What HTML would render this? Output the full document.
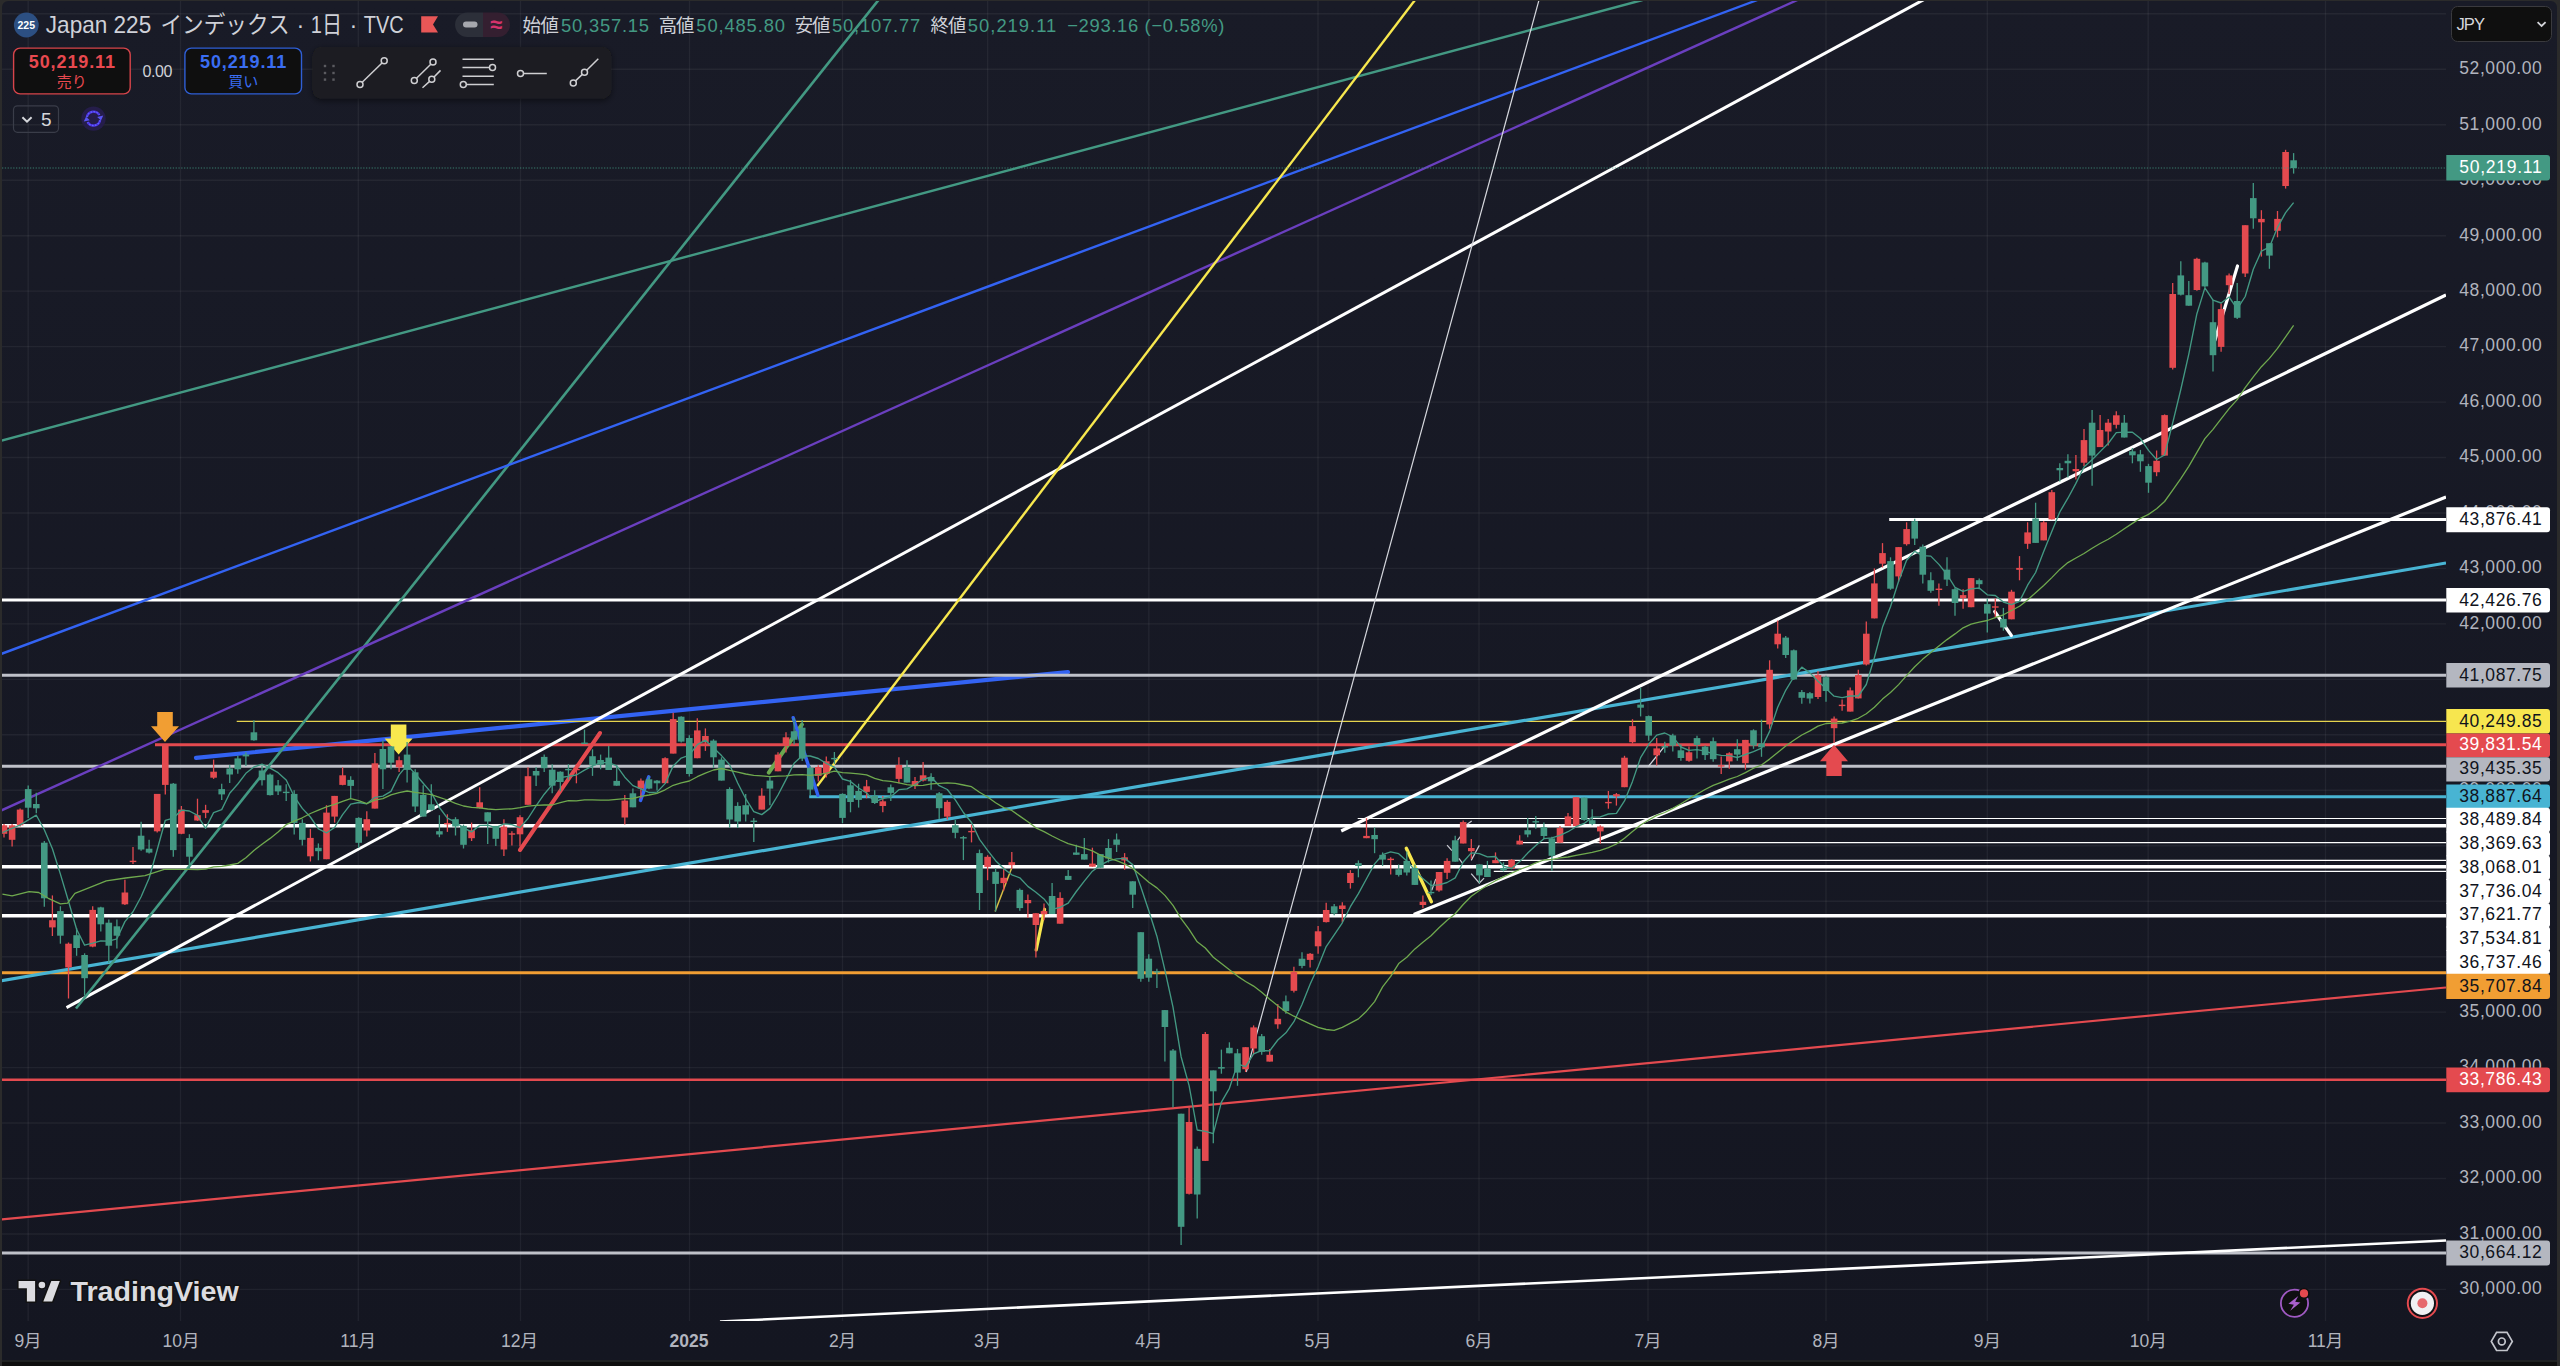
<!DOCTYPE html><html><head><meta charset="utf-8"><title>Japan 225</title><style>
html,body{margin:0;padding:0;background:#0f0f0f;width:2560px;height:1366px;overflow:hidden}
svg{display:block;position:absolute;left:0;top:0}
text{font-family:"Liberation Sans","Noto Sans CJK JP",sans-serif}
.ax{font-size:17.5px;fill:#b1b4be}
.lb{font-size:17.5px}
</style></head><body>
<svg width="2560" height="1366" viewBox="0 0 2560 1366">
<defs><linearGradient id="bg" x1="0" y1="0" x2="0" y2="1"><stop offset="0" stop-color="#191b27"/><stop offset="1" stop-color="#141621"/></linearGradient>
<clipPath id="cc"><rect x="2" y="1" width="2444" height="1320"/></clipPath>
<filter id="sh" x="-10%" y="-20%" width="120%" height="150%"><feDropShadow dx="0" dy="2" stdDeviation="3" flood-color="#000" flood-opacity="0.5"/></filter>
</defs>
<rect x="0" y="0" width="2560" height="1366" fill="#2b2b2b"/>
<rect x="2" y="1361" width="2555" height="5" fill="#0e0e0e"/>
<path d="M2 1361V7a6 6 0 0 1 6-6H2551a6 6 0 0 1 6 6V1361z" fill="url(#bg)"/>
<rect x="2" y="1360.3" width="2555" height="1.5" fill="#242726"/>
<g stroke="#ffffff" stroke-opacity="0.055" stroke-width="1.4">
<line x1="28.2" y1="1" x2="28.2" y2="1321"/>
<line x1="180.5" y1="1" x2="180.5" y2="1321"/>
<line x1="358.3" y1="1" x2="358.3" y2="1321"/>
<line x1="520.5" y1="1" x2="520.5" y2="1321"/>
<line x1="689.5" y1="1" x2="689.5" y2="1321"/>
<line x1="842.5" y1="1" x2="842.5" y2="1321"/>
<line x1="987.6" y1="1" x2="987.6" y2="1321"/>
<line x1="1148.8" y1="1" x2="1148.8" y2="1321"/>
<line x1="1318.0" y1="1" x2="1318.0" y2="1321"/>
<line x1="1479.0" y1="1" x2="1479.0" y2="1321"/>
<line x1="1648.0" y1="1" x2="1648.0" y2="1321"/>
<line x1="1826.0" y1="1" x2="1826.0" y2="1321"/>
<line x1="1987.3" y1="1" x2="1987.3" y2="1321"/>
<line x1="2148.2" y1="1" x2="2148.2" y2="1321"/>
<line x1="2325.5" y1="1" x2="2325.5" y2="1321"/>
<line x1="2" y1="1289.4" x2="2446" y2="1289.4"/>
<line x1="2" y1="1234.0" x2="2446" y2="1234.0"/>
<line x1="2" y1="1178.5" x2="2446" y2="1178.5"/>
<line x1="2" y1="1123.0" x2="2446" y2="1123.0"/>
<line x1="2" y1="1067.6" x2="2446" y2="1067.6"/>
<line x1="2" y1="1012.1" x2="2446" y2="1012.1"/>
<line x1="2" y1="956.7" x2="2446" y2="956.7"/>
<line x1="2" y1="901.2" x2="2446" y2="901.2"/>
<line x1="2" y1="845.7" x2="2446" y2="845.7"/>
<line x1="2" y1="790.3" x2="2446" y2="790.3"/>
<line x1="2" y1="734.8" x2="2446" y2="734.8"/>
<line x1="2" y1="679.4" x2="2446" y2="679.4"/>
<line x1="2" y1="623.9" x2="2446" y2="623.9"/>
<line x1="2" y1="568.4" x2="2446" y2="568.4"/>
<line x1="2" y1="513.0" x2="2446" y2="513.0"/>
<line x1="2" y1="457.5" x2="2446" y2="457.5"/>
<line x1="2" y1="402.1" x2="2446" y2="402.1"/>
<line x1="2" y1="346.6" x2="2446" y2="346.6"/>
<line x1="2" y1="291.1" x2="2446" y2="291.1"/>
<line x1="2" y1="235.7" x2="2446" y2="235.7"/>
<line x1="2" y1="180.2" x2="2446" y2="180.2"/>
<line x1="2" y1="124.8" x2="2446" y2="124.8"/>
<line x1="2" y1="69.3" x2="2446" y2="69.3"/>
<line x1="2" y1="13.8" x2="2446" y2="13.8"/>
</g>
<g clip-path="url(#cc)">
<line x1="196.0" y1="757.9" x2="1068.0" y2="672.0" stroke="#3363f3" stroke-width="4.2" stroke-linecap="round"/>
<line x1="0.0" y1="1253.0" x2="2446.0" y2="1253.0" stroke="#bfc1c9" stroke-width="3.0" stroke-linecap="butt"/>
<line x1="0.0" y1="1079.8" x2="2446.0" y2="1079.8" stroke="#e44a4f" stroke-width="2.4" stroke-linecap="butt"/>
<line x1="0.0" y1="972.7" x2="2446.0" y2="972.7" stroke="#f19e33" stroke-width="3.0" stroke-linecap="butt"/>
<line x1="0.0" y1="915.8" x2="2446.0" y2="915.8" stroke="#ffffff" stroke-width="3.4" stroke-linecap="butt"/>
<line x1="0.0" y1="866.7" x2="2446.0" y2="866.7" stroke="#ffffff" stroke-width="3.4" stroke-linecap="butt"/>
<line x1="0.0" y1="825.7" x2="2446.0" y2="825.7" stroke="#ffffff" stroke-width="3.4" stroke-linecap="butt"/>
<line x1="1357.7" y1="818.5" x2="2446.0" y2="818.5" stroke="#ffffff" stroke-width="1.2" stroke-linecap="butt"/>
<line x1="1522.0" y1="842.6" x2="2446.0" y2="842.6" stroke="#ffffff" stroke-width="1.2" stroke-linecap="butt"/>
<line x1="1497.8" y1="860.4" x2="2446.0" y2="860.4" stroke="#ffffff" stroke-width="1.2" stroke-linecap="butt"/>
<line x1="1493.8" y1="871.3" x2="2446.0" y2="871.3" stroke="#ffffff" stroke-width="1.2" stroke-linecap="butt"/>
<line x1="809.2" y1="796.8" x2="2446.0" y2="796.8" stroke="#48b4d3" stroke-width="3.0" stroke-linecap="butt"/>
<line x1="0.0" y1="766.3" x2="2446.0" y2="766.3" stroke="#bfc1c9" stroke-width="3.0" stroke-linecap="butt"/>
<line x1="155.0" y1="744.7" x2="2446.0" y2="744.7" stroke="#e44a4f" stroke-width="3.0" stroke-linecap="butt"/>
<line x1="236.7" y1="721.4" x2="2446.0" y2="721.4" stroke="#e6d44e" stroke-width="1.2" stroke-linecap="butt"/>
<line x1="0.0" y1="675.3" x2="2446.0" y2="675.3" stroke="#bfc1c9" stroke-width="3.0" stroke-linecap="butt"/>
<line x1="0.0" y1="600.1" x2="2446.0" y2="600.1" stroke="#ffffff" stroke-width="3.0" stroke-linecap="butt"/>
<line x1="1889.2" y1="519.6" x2="2446.0" y2="519.6" stroke="#ffffff" stroke-width="3.0" stroke-linecap="butt"/>
<line x1="0.0" y1="1219.5" x2="2446.0" y2="987.5" stroke="#e44a4f" stroke-width="2.2" stroke-linecap="butt"/>
<line x1="720.0" y1="1321.5" x2="2446.0" y2="1240.5" stroke="#ffffff" stroke-width="2.6" stroke-linecap="butt"/>
<line x1="0.0" y1="981.0" x2="2446.0" y2="563.0" stroke="#48b4d3" stroke-width="3.2" stroke-linecap="butt"/>
<line x1="1341.2" y1="831.0" x2="2446.0" y2="295.0" stroke="#ffffff" stroke-width="3.2" stroke-linecap="butt"/>
<line x1="1413.7" y1="914.4" x2="2446.0" y2="497.0" stroke="#ffffff" stroke-width="3.2" stroke-linecap="butt"/>
<line x1="66.5" y1="1007.6" x2="1925.0" y2="-1.0" stroke="#ffffff" stroke-width="3.0" stroke-linecap="butt"/>
<line x1="76.0" y1="1008.5" x2="878.5" y2="0.0" stroke="#439983" stroke-width="2.6" stroke-linecap="butt"/>
<line x1="0.0" y1="441.0" x2="1642.5" y2="0.0" stroke="#439983" stroke-width="2.4" stroke-linecap="butt"/>
<line x1="0.0" y1="654.4" x2="1757.5" y2="0.0" stroke="#3363f3" stroke-width="2.4" stroke-linecap="butt"/>
<line x1="0.0" y1="811.0" x2="1797.5" y2="0.0" stroke="#6a3fbf" stroke-width="2.4" stroke-linecap="butt"/>
<line x1="817.2" y1="785.9" x2="1415.0" y2="0.0" stroke="#f8e84e" stroke-width="2.4" stroke-linecap="butt"/>
<line x1="1246.3" y1="1072.0" x2="1539.0" y2="0.0" stroke="#d6d8de" stroke-width="1.2" stroke-linecap="butt"/>
<line x1="520.0" y1="850.0" x2="600.0" y2="733.0" stroke="#e44a4f" stroke-width="4.0" stroke-linecap="round"/>
<line x1="768.8" y1="772.6" x2="801.9" y2="724.6" stroke="#6aa84f" stroke-width="4.0" stroke-linecap="round"/>
<line x1="793.2" y1="717.7" x2="817.9" y2="795.3" stroke="#3363f3" stroke-width="3.4" stroke-linecap="round"/>
<line x1="640.5" y1="800.3" x2="648.8" y2="776.9" stroke="#3363f3" stroke-width="3.6" stroke-linecap="round"/>
<line x1="995.1" y1="911.6" x2="1011.5" y2="868.4" stroke="#d8bf45" stroke-width="1.5" stroke-linecap="butt"/>
<line x1="1036.2" y1="950.0" x2="1044.6" y2="909.2" stroke="#f8e84e" stroke-width="3.2" stroke-linecap="round"/>
<line x1="1406.3" y1="848.3" x2="1431.4" y2="901.8" stroke="#f8e84e" stroke-width="3.4" stroke-linecap="round"/>
<line x1="1994.7" y1="611.5" x2="2011.4" y2="635.5" stroke="#ffffff" stroke-width="3.2" stroke-linecap="round"/>
<line x1="2237.5" y1="266.0" x2="2215.0" y2="340.0" stroke="#ffffff" stroke-width="3.2" stroke-linecap="round"/>
<line x1="1648.4" y1="766.4" x2="1665.3" y2="745.4" stroke="#d6d8de" stroke-width="1.3" stroke-linecap="butt"/>
<polyline fill="none" stroke="#c9cbd2" stroke-width="1.2" points="1447.1,845.1 1451.9,850.7"/>
<polyline fill="none" stroke="#c9cbd2" stroke-width="1.2" points="1457.5,840.3 1460.7,836.2"/>
<polyline fill="none" stroke="#c9cbd2" stroke-width="1.2" points="1458.8,858.3 1462.4,863.1"/>
<polyline fill="none" stroke="#c9cbd2" stroke-width="1.2" points="1467.2,824.2 1471.7,820.9"/>
<polyline fill="none" stroke="#c9cbd2" stroke-width="1.2" points="1471.2,860.4 1479.3,845.4"/>
<polyline fill="none" stroke="#c9cbd2" stroke-width="1.2" points="1471.2,873.6 1479.3,883.0 1484.1,878.1"/>
<polyline fill="none" stroke="#c9cbd2" stroke-width="1.2" points="1431.8,890.2 1435.8,878.9"/>
<path d="M165.0 742.0l-14 -15.8h6.2v-14.2h15.6v14.2h6.2z" fill="#f19e33"/>
<path d="M398.6 754.4l-14 -15.8h6.2v-14.2h15.6v14.2h6.2z" fill="#f8e84e"/>
<path d="M1834.0 744.7l-14 16.6h6.3v14.6h15.4v-14.6h6.3z" fill="#e44a4f"/>
<g>
<path d="M4.0 824.1V837.4" stroke="#e44a4f" stroke-width="1.3"/><rect x="0.7" y="825.3" width="6.6" height="8.5" fill="#e44a4f"/>
<path d="M12.1 824.1V846.6" stroke="#e44a4f" stroke-width="1.3"/><rect x="8.8" y="825.3" width="6.6" height="14.5" fill="#e44a4f"/>
<path d="M20.1 808.4V826.5" stroke="#e44a4f" stroke-width="1.3"/><rect x="16.8" y="809.6" width="6.6" height="15.7" fill="#e44a4f"/>
<path d="M28.2 785.4V818.1" stroke="#439983" stroke-width="1.3"/><rect x="24.9" y="789.1" width="6.6" height="18.6" fill="#439983"/>
<path d="M36.3 792.7V813.2" stroke="#439983" stroke-width="1.3"/><rect x="33.0" y="804.0" width="6.6" height="4.3" fill="#439983"/>
<path d="M44.3 841.0V906.7" stroke="#439983" stroke-width="1.3"/><rect x="41.0" y="842.7" width="6.6" height="55.6" fill="#439983"/>
<path d="M52.4 895.4V936.0" stroke="#e44a4f" stroke-width="1.3"/><rect x="49.1" y="920.2" width="6.6" height="7.2" fill="#e44a4f"/>
<path d="M60.4 906.2V943.7" stroke="#439983" stroke-width="1.3"/><rect x="57.1" y="911.1" width="6.6" height="24.6" fill="#439983"/>
<path d="M68.5 942.5V998.5" stroke="#e44a4f" stroke-width="1.3"/><rect x="65.2" y="943.7" width="6.6" height="23.7" fill="#e44a4f"/>
<path d="M76.6 928.0V955.8" stroke="#439983" stroke-width="1.3"/><rect x="73.3" y="935.2" width="6.6" height="12.8" fill="#439983"/>
<path d="M84.6 953.3V995.6" stroke="#439983" stroke-width="1.3"/><rect x="81.3" y="955.0" width="6.6" height="23.2" fill="#439983"/>
<path d="M92.7 906.2V947.3" stroke="#e44a4f" stroke-width="1.3"/><rect x="89.4" y="909.9" width="6.6" height="36.7" fill="#e44a4f"/>
<path d="M100.8 906.7V931.6" stroke="#439983" stroke-width="1.3"/><rect x="97.5" y="907.4" width="6.6" height="16.9" fill="#439983"/>
<path d="M108.8 919.5V963.0" stroke="#439983" stroke-width="1.3"/><rect x="105.5" y="922.7" width="6.6" height="23.0" fill="#439983"/>
<path d="M116.9 919.5V948.5" stroke="#439983" stroke-width="1.3"/><rect x="113.6" y="926.3" width="6.6" height="9.4" fill="#439983"/>
<path d="M124.9 879.7V905.0" stroke="#e44a4f" stroke-width="1.3"/><rect x="121.6" y="892.5" width="6.6" height="11.8" fill="#e44a4f"/>
<path d="M133.0 847.0V864.0" stroke="#e44a4f" stroke-width="1.3"/><rect x="129.7" y="860.7" width="6.6" height="1.4" fill="#e44a4f"/>
<path d="M141.1 821.7V850.7" stroke="#439983" stroke-width="1.3"/><rect x="137.8" y="835.7" width="6.6" height="13.8" fill="#439983"/>
<path d="M149.1 839.8V853.6" stroke="#439983" stroke-width="1.3"/><rect x="145.8" y="848.7" width="6.6" height="3.9" fill="#439983"/>
<path d="M157.2 793.9V832.5" stroke="#e44a4f" stroke-width="1.3"/><rect x="153.9" y="793.9" width="6.6" height="37.4" fill="#e44a4f"/>
<path d="M165.3 744.8V794.4" stroke="#e44a4f" stroke-width="1.3"/><rect x="162.0" y="744.8" width="6.6" height="40.1" fill="#e44a4f"/>
<path d="M173.3 783.0V856.7" stroke="#439983" stroke-width="1.3"/><rect x="170.0" y="783.7" width="6.6" height="66.4" fill="#439983"/>
<path d="M181.4 806.0V834.2" stroke="#e44a4f" stroke-width="1.3"/><rect x="178.1" y="809.6" width="6.6" height="24.2" fill="#e44a4f"/>
<path d="M189.4 834.2V868.8" stroke="#439983" stroke-width="1.3"/><rect x="186.1" y="838.1" width="6.6" height="18.6" fill="#439983"/>
<path d="M197.5 798.7V820.9" stroke="#e44a4f" stroke-width="1.3"/><rect x="194.2" y="815.2" width="6.6" height="5.3" fill="#e44a4f"/>
<path d="M205.6 804.8V818.1" stroke="#e44a4f" stroke-width="1.3"/><rect x="202.3" y="810.1" width="6.6" height="2.7" fill="#e44a4f"/>
<path d="M213.6 759.6V778.9" stroke="#e44a4f" stroke-width="1.3"/><rect x="210.3" y="771.7" width="6.6" height="6.0" fill="#e44a4f"/>
<path d="M221.7 783.7V799.9" stroke="#439983" stroke-width="1.3"/><rect x="218.4" y="789.1" width="6.6" height="5.3" fill="#439983"/>
<path d="M229.7 764.9V783.0" stroke="#439983" stroke-width="1.3"/><rect x="226.4" y="768.5" width="6.6" height="6.0" fill="#439983"/>
<path d="M237.8 755.7V773.8" stroke="#439983" stroke-width="1.3"/><rect x="234.5" y="758.4" width="6.6" height="10.9" fill="#439983"/>
<path d="M245.9 752.3V766.1" stroke="#439983" stroke-width="1.3"/><rect x="242.6" y="754.5" width="6.6" height="1.9" fill="#439983"/>
<path d="M253.9 720.2V740.7" stroke="#439983" stroke-width="1.3"/><rect x="250.6" y="732.3" width="6.6" height="8.0" fill="#439983"/>
<path d="M262.0 765.6V785.4" stroke="#439983" stroke-width="1.3"/><rect x="258.7" y="770.5" width="6.6" height="9.7" fill="#439983"/>
<path d="M270.1 773.4V795.6" stroke="#439983" stroke-width="1.3"/><rect x="266.8" y="774.6" width="6.6" height="20.5" fill="#439983"/>
<path d="M278.1 779.9V795.1" stroke="#439983" stroke-width="1.3"/><rect x="274.8" y="785.4" width="6.6" height="6.0" fill="#439983"/>
<path d="M286.2 784.2V801.1" stroke="#439983" stroke-width="1.3"/><rect x="282.9" y="791.7" width="6.6" height="1.4" fill="#439983"/>
<path d="M294.2 790.3V834.5" stroke="#439983" stroke-width="1.3"/><rect x="290.9" y="793.9" width="6.6" height="29.0" fill="#439983"/>
<path d="M302.3 819.3V845.4" stroke="#439983" stroke-width="1.3"/><rect x="299.0" y="822.9" width="6.6" height="16.9" fill="#439983"/>
<path d="M310.4 828.9V861.5" stroke="#e44a4f" stroke-width="1.3"/><rect x="307.1" y="837.9" width="6.6" height="18.4" fill="#e44a4f"/>
<path d="M318.4 843.4V860.3" stroke="#439983" stroke-width="1.3"/><rect x="315.1" y="847.8" width="6.6" height="3.4" fill="#439983"/>
<path d="M326.5 805.2V859.2" stroke="#e44a4f" stroke-width="1.3"/><rect x="323.2" y="812.6" width="6.6" height="46.6" fill="#e44a4f"/>
<path d="M334.6 795.9V822.6" stroke="#e44a4f" stroke-width="1.3"/><rect x="331.3" y="795.9" width="6.6" height="20.7" fill="#e44a4f"/>
<path d="M342.6 767.3V785.3" stroke="#e44a4f" stroke-width="1.3"/><rect x="339.3" y="775.3" width="6.6" height="9.6" fill="#e44a4f"/>
<path d="M350.7 776.2V797.9" stroke="#439983" stroke-width="1.3"/><rect x="347.4" y="779.9" width="6.6" height="6.0" fill="#439983"/>
<path d="M358.7 817.2V847.9" stroke="#439983" stroke-width="1.3"/><rect x="355.4" y="817.9" width="6.6" height="24.9" fill="#439983"/>
<path d="M366.8 811.2V836.6" stroke="#e44a4f" stroke-width="1.3"/><rect x="363.5" y="819.2" width="6.6" height="11.3" fill="#e44a4f"/>
<path d="M374.9 753.0V808.6" stroke="#e44a4f" stroke-width="1.3"/><rect x="371.6" y="763.3" width="6.6" height="45.3" fill="#e44a4f"/>
<path d="M382.9 740.6V789.0" stroke="#439983" stroke-width="1.3"/><rect x="379.6" y="749.0" width="6.6" height="20.3" fill="#439983"/>
<path d="M391.0 746.0V769.3" stroke="#439983" stroke-width="1.3"/><rect x="387.7" y="746.4" width="6.6" height="16.3" fill="#439983"/>
<path d="M399.1 756.6V771.9" stroke="#e44a4f" stroke-width="1.3"/><rect x="395.8" y="760.2" width="6.6" height="7.1" fill="#e44a4f"/>
<path d="M407.1 742.0V782.6" stroke="#439983" stroke-width="1.3"/><rect x="403.8" y="754.6" width="6.6" height="15.3" fill="#439983"/>
<path d="M415.2 769.3V811.9" stroke="#439983" stroke-width="1.3"/><rect x="411.9" y="772.3" width="6.6" height="34.2" fill="#439983"/>
<path d="M423.2 785.3V816.6" stroke="#439983" stroke-width="1.3"/><rect x="419.9" y="794.9" width="6.6" height="21.7" fill="#439983"/>
<path d="M431.3 784.2V810.6" stroke="#439983" stroke-width="1.3"/><rect x="428.0" y="804.3" width="6.6" height="5.6" fill="#439983"/>
<path d="M439.4 815.2V837.2" stroke="#439983" stroke-width="1.3"/><rect x="436.1" y="831.2" width="6.6" height="3.3" fill="#439983"/>
<path d="M447.4 814.3V831.9" stroke="#e44a4f" stroke-width="1.3"/><rect x="444.1" y="823.0" width="6.6" height="1.4" fill="#e44a4f"/>
<path d="M455.5 817.2V835.5" stroke="#439983" stroke-width="1.3"/><rect x="452.2" y="819.2" width="6.6" height="7.3" fill="#439983"/>
<path d="M463.5 824.6V848.5" stroke="#439983" stroke-width="1.3"/><rect x="460.2" y="825.9" width="6.6" height="18.9" fill="#439983"/>
<path d="M471.6 822.6V841.0" stroke="#e44a4f" stroke-width="1.3"/><rect x="468.3" y="830.3" width="6.6" height="7.9" fill="#e44a4f"/>
<path d="M479.7 787.3V808.6" stroke="#e44a4f" stroke-width="1.3"/><rect x="476.4" y="802.3" width="6.6" height="5.9" fill="#e44a4f"/>
<path d="M487.7 812.3V843.9" stroke="#439983" stroke-width="1.3"/><rect x="484.4" y="812.3" width="6.6" height="9.2" fill="#439983"/>
<path d="M495.8 825.9V845.9" stroke="#439983" stroke-width="1.3"/><rect x="492.5" y="825.9" width="6.6" height="12.9" fill="#439983"/>
<path d="M503.9 819.2V855.9" stroke="#e44a4f" stroke-width="1.3"/><rect x="500.6" y="826.6" width="6.6" height="22.9" fill="#e44a4f"/>
<path d="M511.9 831.2V845.6" stroke="#e44a4f" stroke-width="1.3"/><rect x="508.6" y="833.3" width="6.6" height="1.4" fill="#e44a4f"/>
<path d="M520.0 815.2V846.5" stroke="#e44a4f" stroke-width="1.3"/><rect x="516.7" y="817.2" width="6.6" height="17.1" fill="#e44a4f"/>
<path d="M528.0 767.3V804.8" stroke="#e44a4f" stroke-width="1.3"/><rect x="524.7" y="776.2" width="6.6" height="28.6" fill="#e44a4f"/>
<path d="M536.1 767.0V785.9" stroke="#439983" stroke-width="1.3"/><rect x="532.8" y="771.0" width="6.6" height="4.5" fill="#439983"/>
<path d="M544.2 754.6V771.9" stroke="#439983" stroke-width="1.3"/><rect x="540.9" y="756.9" width="6.6" height="11.3" fill="#439983"/>
<path d="M552.2 764.2V793.3" stroke="#439983" stroke-width="1.3"/><rect x="548.9" y="769.7" width="6.6" height="16.0" fill="#439983"/>
<path d="M560.3 771.3V791.3" stroke="#439983" stroke-width="1.3"/><rect x="557.0" y="771.7" width="6.6" height="10.3" fill="#439983"/>
<path d="M568.4 764.2V779.7" stroke="#439983" stroke-width="1.3"/><rect x="565.1" y="768.9" width="6.6" height="1.4" fill="#439983"/>
<path d="M576.4 763.9V783.3" stroke="#e44a4f" stroke-width="1.3"/><rect x="573.1" y="768.9" width="6.6" height="1.4" fill="#e44a4f"/>
<path d="M584.5 729.6V744.0" stroke="#439983" stroke-width="1.3"/><rect x="581.2" y="742.6" width="6.6" height="1.4" fill="#439983"/>
<path d="M592.5 749.3V775.9" stroke="#439983" stroke-width="1.3"/><rect x="589.2" y="756.2" width="6.6" height="9.1" fill="#439983"/>
<path d="M600.6 754.6V769.3" stroke="#439983" stroke-width="1.3"/><rect x="597.3" y="760.0" width="6.6" height="4.7" fill="#439983"/>
<path d="M608.7 746.0V769.9" stroke="#439983" stroke-width="1.3"/><rect x="605.4" y="757.6" width="6.6" height="12.4" fill="#439983"/>
<path d="M616.7 765.3V785.7" stroke="#439983" stroke-width="1.3"/><rect x="613.4" y="780.9" width="6.6" height="4.8" fill="#439983"/>
<path d="M624.8 794.9V824.6" stroke="#e44a4f" stroke-width="1.3"/><rect x="621.5" y="800.6" width="6.6" height="16.9" fill="#e44a4f"/>
<path d="M632.9 788.6V807.2" stroke="#439983" stroke-width="1.3"/><rect x="629.6" y="793.3" width="6.6" height="14.0" fill="#439983"/>
<path d="M640.9 778.6V798.6" stroke="#e44a4f" stroke-width="1.3"/><rect x="637.6" y="780.6" width="6.6" height="8.0" fill="#e44a4f"/>
<path d="M649.0 776.6V789.3" stroke="#439983" stroke-width="1.3"/><rect x="645.7" y="779.3" width="6.6" height="9.3" fill="#439983"/>
<path d="M657.0 779.9V790.6" stroke="#439983" stroke-width="1.3"/><rect x="653.7" y="780.6" width="6.6" height="2.7" fill="#439983"/>
<path d="M665.1 757.3V783.3" stroke="#e44a4f" stroke-width="1.3"/><rect x="661.8" y="758.2" width="6.6" height="25.0" fill="#e44a4f"/>
<path d="M673.2 712.7V753.6" stroke="#e44a4f" stroke-width="1.3"/><rect x="669.9" y="719.1" width="6.6" height="34.5" fill="#e44a4f"/>
<path d="M681.2 716.3V742.6" stroke="#439983" stroke-width="1.3"/><rect x="677.9" y="716.7" width="6.6" height="24.9" fill="#439983"/>
<path d="M689.3 735.3V776.6" stroke="#439983" stroke-width="1.3"/><rect x="686.0" y="738.0" width="6.6" height="36.0" fill="#439983"/>
<path d="M697.3 718.3V758.2" stroke="#e44a4f" stroke-width="1.3"/><rect x="694.0" y="730.4" width="6.6" height="27.8" fill="#e44a4f"/>
<path d="M705.4 728.4V750.9" stroke="#e44a4f" stroke-width="1.3"/><rect x="702.1" y="736.0" width="6.6" height="6.4" fill="#e44a4f"/>
<path d="M713.5 739.3V767.9" stroke="#439983" stroke-width="1.3"/><rect x="710.2" y="740.6" width="6.6" height="16.7" fill="#439983"/>
<path d="M721.5 757.3V780.6" stroke="#439983" stroke-width="1.3"/><rect x="718.2" y="759.6" width="6.6" height="21.0" fill="#439983"/>
<path d="M729.6 787.3V827.9" stroke="#439983" stroke-width="1.3"/><rect x="726.3" y="789.0" width="6.6" height="30.5" fill="#439983"/>
<path d="M737.7 802.3V827.9" stroke="#439983" stroke-width="1.3"/><rect x="734.4" y="805.9" width="6.6" height="15.6" fill="#439983"/>
<path d="M745.7 793.9V821.5" stroke="#439983" stroke-width="1.3"/><rect x="742.4" y="805.2" width="6.6" height="9.3" fill="#439983"/>
<path d="M753.8 817.9V841.9" stroke="#439983" stroke-width="1.3"/><rect x="750.5" y="820.6" width="6.6" height="1.4" fill="#439983"/>
<path d="M761.8 788.2V809.5" stroke="#e44a4f" stroke-width="1.3"/><rect x="758.5" y="795.7" width="6.6" height="13.9" fill="#e44a4f"/>
<path d="M769.9 776.6V805.2" stroke="#439983" stroke-width="1.3"/><rect x="766.6" y="780.6" width="6.6" height="8.0" fill="#439983"/>
<path d="M778.0 752.2V771.3" stroke="#e44a4f" stroke-width="1.3"/><rect x="774.7" y="754.6" width="6.6" height="16.7" fill="#e44a4f"/>
<path d="M786.0 732.2V752.6" stroke="#e44a4f" stroke-width="1.3"/><rect x="782.7" y="737.3" width="6.6" height="8.7" fill="#e44a4f"/>
<path d="M794.1 718.0V744.6" stroke="#439983" stroke-width="1.3"/><rect x="790.8" y="731.3" width="6.6" height="8.4" fill="#439983"/>
<path d="M802.2 720.0V761.0" stroke="#439983" stroke-width="1.3"/><rect x="798.9" y="727.7" width="6.6" height="30.9" fill="#439983"/>
<path d="M810.2 765.9V795.3" stroke="#439983" stroke-width="1.3"/><rect x="806.9" y="767.9" width="6.6" height="21.7" fill="#439983"/>
<path d="M818.3 765.3V781.5" stroke="#e44a4f" stroke-width="1.3"/><rect x="815.0" y="767.0" width="6.6" height="8.9" fill="#e44a4f"/>
<path d="M826.3 756.6V777.5" stroke="#e44a4f" stroke-width="1.3"/><rect x="823.0" y="761.3" width="6.6" height="12.7" fill="#e44a4f"/>
<path d="M834.4 752.0V763.9" stroke="#439983" stroke-width="1.3"/><rect x="831.1" y="757.9" width="6.6" height="1.4" fill="#439983"/>
<path d="M842.5 793.3V823.2" stroke="#439983" stroke-width="1.3"/><rect x="839.2" y="793.9" width="6.6" height="24.0" fill="#439983"/>
<path d="M850.5 779.9V812.3" stroke="#439983" stroke-width="1.3"/><rect x="847.2" y="785.3" width="6.6" height="16.7" fill="#439983"/>
<path d="M858.6 783.7V807.6" stroke="#439983" stroke-width="1.3"/><rect x="855.3" y="791.0" width="6.6" height="8.9" fill="#439983"/>
<path d="M866.6 779.9V798.3" stroke="#e44a4f" stroke-width="1.3"/><rect x="863.3" y="786.3" width="6.6" height="5.6" fill="#e44a4f"/>
<path d="M874.7 790.3V803.9" stroke="#439983" stroke-width="1.3"/><rect x="871.4" y="795.7" width="6.6" height="7.3" fill="#439983"/>
<path d="M882.8 795.9V812.3" stroke="#e44a4f" stroke-width="1.3"/><rect x="879.5" y="801.3" width="6.6" height="4.7" fill="#e44a4f"/>
<path d="M890.8 784.6V801.0" stroke="#439983" stroke-width="1.3"/><rect x="887.5" y="787.3" width="6.6" height="5.6" fill="#439983"/>
<path d="M898.9 757.3V783.3" stroke="#e44a4f" stroke-width="1.3"/><rect x="895.6" y="765.0" width="6.6" height="13.9" fill="#e44a4f"/>
<path d="M907.0 760.2V782.6" stroke="#439983" stroke-width="1.3"/><rect x="903.7" y="767.0" width="6.6" height="15.6" fill="#439983"/>
<path d="M915.0 777.0V789.0" stroke="#e44a4f" stroke-width="1.3"/><rect x="911.7" y="781.0" width="6.6" height="4.3" fill="#e44a4f"/>
<path d="M923.1 762.0V781.5" stroke="#e44a4f" stroke-width="1.3"/><rect x="919.8" y="775.3" width="6.6" height="5.3" fill="#e44a4f"/>
<path d="M931.1 773.3V789.7" stroke="#439983" stroke-width="1.3"/><rect x="927.8" y="777.0" width="6.6" height="4.3" fill="#439983"/>
<path d="M939.2 791.9V819.2" stroke="#439983" stroke-width="1.3"/><rect x="935.9" y="793.3" width="6.6" height="14.9" fill="#439983"/>
<path d="M947.3 800.2V819.5" stroke="#e44a4f" stroke-width="1.3"/><rect x="944.0" y="801.9" width="6.6" height="14.7" fill="#e44a4f"/>
<path d="M955.3 819.9V838.2" stroke="#439983" stroke-width="1.3"/><rect x="952.0" y="825.2" width="6.6" height="7.6" fill="#439983"/>
<path d="M963.4 835.9V860.1" stroke="#439983" stroke-width="1.3"/><rect x="960.1" y="837.1" width="6.6" height="1.4" fill="#439983"/>
<path d="M971.5 824.6V842.4" stroke="#e44a4f" stroke-width="1.3"/><rect x="968.2" y="830.9" width="6.6" height="1.4" fill="#e44a4f"/>
<path d="M979.5 849.6V910.0" stroke="#439983" stroke-width="1.3"/><rect x="976.2" y="853.1" width="6.6" height="39.9" fill="#439983"/>
<path d="M987.6 855.2V880.2" stroke="#e44a4f" stroke-width="1.3"/><rect x="984.3" y="856.8" width="6.6" height="10.1" fill="#e44a4f"/>
<path d="M995.6 868.1V911.6" stroke="#439983" stroke-width="1.3"/><rect x="992.3" y="871.8" width="6.6" height="12.1" fill="#439983"/>
<path d="M1003.7 867.3V890.7" stroke="#e44a4f" stroke-width="1.3"/><rect x="1000.4" y="877.8" width="6.6" height="5.3" fill="#e44a4f"/>
<path d="M1011.8 852.0V868.9" stroke="#e44a4f" stroke-width="1.3"/><rect x="1008.5" y="862.2" width="6.6" height="2.9" fill="#e44a4f"/>
<path d="M1019.8 888.6V910.8" stroke="#439983" stroke-width="1.3"/><rect x="1016.5" y="889.9" width="6.6" height="18.2" fill="#439983"/>
<path d="M1027.9 894.4V918.1" stroke="#e44a4f" stroke-width="1.3"/><rect x="1024.6" y="900.0" width="6.6" height="3.2" fill="#e44a4f"/>
<path d="M1035.9 913.2V957.5" stroke="#e44a4f" stroke-width="1.3"/><rect x="1032.6" y="913.2" width="6.6" height="11.8" fill="#e44a4f"/>
<path d="M1044.0 903.6V920.2" stroke="#e44a4f" stroke-width="1.3"/><rect x="1040.7" y="911.1" width="6.6" height="3.2" fill="#e44a4f"/>
<path d="M1052.1 883.1V914.0" stroke="#439983" stroke-width="1.3"/><rect x="1048.8" y="896.0" width="6.6" height="18.0" fill="#439983"/>
<path d="M1060.1 892.3V923.7" stroke="#e44a4f" stroke-width="1.3"/><rect x="1056.8" y="897.9" width="6.6" height="25.8" fill="#e44a4f"/>
<path d="M1068.2 870.1V879.9" stroke="#439983" stroke-width="1.3"/><rect x="1064.9" y="875.9" width="6.6" height="4.0" fill="#439983"/>
<path d="M1076.3 844.8V854.8" stroke="#439983" stroke-width="1.3"/><rect x="1073.0" y="852.5" width="6.6" height="2.3" fill="#439983"/>
<path d="M1084.3 838.0V859.6" stroke="#439983" stroke-width="1.3"/><rect x="1081.0" y="854.1" width="6.6" height="5.5" fill="#439983"/>
<path d="M1092.4 847.7V866.7" stroke="#e44a4f" stroke-width="1.3"/><rect x="1089.1" y="863.6" width="6.6" height="3.1" fill="#e44a4f"/>
<path d="M1100.4 854.1V867.8" stroke="#439983" stroke-width="1.3"/><rect x="1097.1" y="854.1" width="6.6" height="13.7" fill="#439983"/>
<path d="M1108.5 839.1V862.5" stroke="#439983" stroke-width="1.3"/><rect x="1105.2" y="848.0" width="6.6" height="10.5" fill="#439983"/>
<path d="M1116.6 833.5V852.0" stroke="#439983" stroke-width="1.3"/><rect x="1113.3" y="839.5" width="6.6" height="5.3" fill="#439983"/>
<path d="M1124.6 853.1V869.7" stroke="#e44a4f" stroke-width="1.3"/><rect x="1121.3" y="857.3" width="6.6" height="3.2" fill="#e44a4f"/>
<path d="M1132.7 881.3V908.1" stroke="#439983" stroke-width="1.3"/><rect x="1129.4" y="881.3" width="6.6" height="13.4" fill="#439983"/>
<path d="M1140.8 932.2V981.7" stroke="#439983" stroke-width="1.3"/><rect x="1137.5" y="932.2" width="6.6" height="46.6" fill="#439983"/>
<path d="M1148.8 954.3V981.7" stroke="#439983" stroke-width="1.3"/><rect x="1145.5" y="958.7" width="6.6" height="19.0" fill="#439983"/>
<path d="M1156.9 968.8V988.1" stroke="#439983" stroke-width="1.3"/><rect x="1153.6" y="971.1" width="6.6" height="1.4" fill="#439983"/>
<path d="M1164.9 1010.1V1061.4" stroke="#439983" stroke-width="1.3"/><rect x="1161.6" y="1010.1" width="6.6" height="16.9" fill="#439983"/>
<path d="M1173.0 1048.9V1107.5" stroke="#439983" stroke-width="1.3"/><rect x="1169.7" y="1050.5" width="6.6" height="29.4" fill="#439983"/>
<path d="M1181.1 1113.7V1245.0" stroke="#439983" stroke-width="1.3"/><rect x="1177.8" y="1113.7" width="6.6" height="113.1" fill="#439983"/>
<path d="M1189.1 1107.5V1194.5" stroke="#e44a4f" stroke-width="1.3"/><rect x="1185.8" y="1122.0" width="6.6" height="71.8" fill="#e44a4f"/>
<path d="M1197.2 1146.6V1218.6" stroke="#439983" stroke-width="1.3"/><rect x="1193.9" y="1148.8" width="6.6" height="45.7" fill="#439983"/>
<path d="M1205.3 1032.0V1160.9" stroke="#e44a4f" stroke-width="1.3"/><rect x="1202.0" y="1034.0" width="6.6" height="126.9" fill="#e44a4f"/>
<path d="M1213.3 1070.4V1143.3" stroke="#439983" stroke-width="1.3"/><rect x="1210.0" y="1070.4" width="6.6" height="20.9" fill="#439983"/>
<path d="M1221.4 1049.6V1073.7" stroke="#439983" stroke-width="1.3"/><rect x="1218.1" y="1067.1" width="6.6" height="1.5" fill="#439983"/>
<path d="M1229.4 1042.3V1053.3" stroke="#439983" stroke-width="1.3"/><rect x="1226.1" y="1047.8" width="6.6" height="5.5" fill="#439983"/>
<path d="M1237.5 1048.9V1085.8" stroke="#439983" stroke-width="1.3"/><rect x="1234.2" y="1053.3" width="6.6" height="19.3" fill="#439983"/>
<path d="M1245.6 1047.2V1072.0" stroke="#e44a4f" stroke-width="1.3"/><rect x="1242.3" y="1047.2" width="6.6" height="22.0" fill="#e44a4f"/>
<path d="M1253.6 1025.4V1054.4" stroke="#e44a4f" stroke-width="1.3"/><rect x="1250.3" y="1027.4" width="6.6" height="21.1" fill="#e44a4f"/>
<path d="M1261.7 1034.0V1054.8" stroke="#439983" stroke-width="1.3"/><rect x="1258.4" y="1036.2" width="6.6" height="15.6" fill="#439983"/>
<path d="M1269.7 1048.9V1061.6" stroke="#e44a4f" stroke-width="1.3"/><rect x="1266.4" y="1054.8" width="6.6" height="6.8" fill="#e44a4f"/>
<path d="M1277.8 1003.9V1028.7" stroke="#e44a4f" stroke-width="1.3"/><rect x="1274.5" y="1018.8" width="6.6" height="5.5" fill="#e44a4f"/>
<path d="M1285.9 995.6V1013.8" stroke="#439983" stroke-width="1.3"/><rect x="1282.6" y="1001.3" width="6.6" height="9.7" fill="#439983"/>
<path d="M1293.9 966.7V992.5" stroke="#e44a4f" stroke-width="1.3"/><rect x="1290.6" y="972.0" width="6.6" height="18.8" fill="#e44a4f"/>
<path d="M1302.0 952.2V968.3" stroke="#439983" stroke-width="1.3"/><rect x="1298.7" y="958.7" width="6.6" height="7.2" fill="#439983"/>
<path d="M1310.1 953.0V967.5" stroke="#e44a4f" stroke-width="1.3"/><rect x="1306.8" y="953.8" width="6.6" height="6.1" fill="#e44a4f"/>
<path d="M1318.1 926.1V953.8" stroke="#e44a4f" stroke-width="1.3"/><rect x="1314.8" y="931.3" width="6.6" height="15.0" fill="#e44a4f"/>
<path d="M1326.2 902.8V922.4" stroke="#e44a4f" stroke-width="1.3"/><rect x="1322.9" y="910.0" width="6.6" height="12.1" fill="#e44a4f"/>
<path d="M1334.2 903.9V915.2" stroke="#439983" stroke-width="1.3"/><rect x="1330.9" y="906.3" width="6.6" height="7.2" fill="#439983"/>
<path d="M1342.3 902.3V922.4" stroke="#e44a4f" stroke-width="1.3"/><rect x="1339.0" y="905.5" width="6.6" height="3.5" fill="#e44a4f"/>
<path d="M1350.4 870.1V888.6" stroke="#e44a4f" stroke-width="1.3"/><rect x="1347.1" y="873.0" width="6.6" height="10.0" fill="#e44a4f"/>
<path d="M1358.4 860.4V877.3" stroke="#439983" stroke-width="1.3"/><rect x="1355.1" y="863.1" width="6.6" height="2.9" fill="#439983"/>
<path d="M1366.5 818.2V838.2" stroke="#e44a4f" stroke-width="1.3"/><rect x="1363.2" y="835.9" width="6.6" height="2.3" fill="#e44a4f"/>
<path d="M1374.6 827.4V853.2" stroke="#439983" stroke-width="1.3"/><rect x="1371.3" y="835.0" width="6.6" height="4.2" fill="#439983"/>
<path d="M1382.6 852.4V866.0" stroke="#439983" stroke-width="1.3"/><rect x="1379.3" y="854.8" width="6.6" height="4.8" fill="#439983"/>
<path d="M1390.7 857.2V874.6" stroke="#e44a4f" stroke-width="1.3"/><rect x="1387.4" y="858.7" width="6.6" height="1.4" fill="#e44a4f"/>
<path d="M1398.7 864.4V876.5" stroke="#439983" stroke-width="1.3"/><rect x="1395.4" y="869.3" width="6.6" height="5.6" fill="#439983"/>
<path d="M1406.8 851.5V875.4" stroke="#439983" stroke-width="1.3"/><rect x="1403.5" y="860.9" width="6.6" height="11.6" fill="#439983"/>
<path d="M1414.9 864.4V884.9" stroke="#439983" stroke-width="1.3"/><rect x="1411.6" y="868.0" width="6.6" height="16.9" fill="#439983"/>
<path d="M1422.9 895.4V908.2" stroke="#e44a4f" stroke-width="1.3"/><rect x="1419.6" y="901.8" width="6.6" height="3.2" fill="#e44a4f"/>
<path d="M1431.0 880.5V895.0" stroke="#439983" stroke-width="1.3"/><rect x="1427.7" y="891.9" width="6.6" height="1.4" fill="#439983"/>
<path d="M1439.0 872.0V891.8" stroke="#e44a4f" stroke-width="1.3"/><rect x="1435.8" y="872.0" width="6.6" height="18.5" fill="#e44a4f"/>
<path d="M1447.1 858.3V878.9" stroke="#e44a4f" stroke-width="1.3"/><rect x="1443.8" y="860.9" width="6.6" height="11.9" fill="#e44a4f"/>
<path d="M1455.2 835.8V861.7" stroke="#439983" stroke-width="1.3"/><rect x="1451.9" y="840.3" width="6.6" height="21.4" fill="#439983"/>
<path d="M1463.2 820.6V843.5" stroke="#e44a4f" stroke-width="1.3"/><rect x="1459.9" y="822.1" width="6.6" height="21.4" fill="#e44a4f"/>
<path d="M1471.3 839.1V858.8" stroke="#e44a4f" stroke-width="1.3"/><rect x="1468.0" y="848.0" width="6.6" height="3.2" fill="#e44a4f"/>
<path d="M1479.4 864.4V883.0" stroke="#439983" stroke-width="1.3"/><rect x="1476.1" y="864.4" width="6.6" height="11.0" fill="#439983"/>
<path d="M1487.4 860.9V877.0" stroke="#439983" stroke-width="1.3"/><rect x="1484.1" y="868.5" width="6.6" height="8.5" fill="#439983"/>
<path d="M1495.5 852.4V863.1" stroke="#e44a4f" stroke-width="1.3"/><rect x="1492.2" y="860.1" width="6.6" height="3.1" fill="#e44a4f"/>
<path d="M1503.5 862.2V871.4" stroke="#439983" stroke-width="1.3"/><rect x="1500.2" y="868.0" width="6.6" height="2.3" fill="#439983"/>
<path d="M1511.6 859.1V868.7" stroke="#e44a4f" stroke-width="1.3"/><rect x="1508.3" y="859.9" width="6.6" height="8.8" fill="#e44a4f"/>
<path d="M1519.7 835.3V844.5" stroke="#e44a4f" stroke-width="1.3"/><rect x="1516.4" y="840.7" width="6.6" height="3.8" fill="#e44a4f"/>
<path d="M1527.7 818.1V837.3" stroke="#439983" stroke-width="1.3"/><rect x="1524.4" y="830.2" width="6.6" height="4.3" fill="#439983"/>
<path d="M1535.8 816.1V828.8" stroke="#439983" stroke-width="1.3"/><rect x="1532.5" y="821.1" width="6.6" height="1.4" fill="#439983"/>
<path d="M1543.9 822.5V839.1" stroke="#439983" stroke-width="1.3"/><rect x="1540.6" y="827.1" width="6.6" height="8.9" fill="#439983"/>
<path d="M1551.9 836.8V870.7" stroke="#439983" stroke-width="1.3"/><rect x="1548.6" y="838.4" width="6.6" height="17.4" fill="#439983"/>
<path d="M1560.0 826.1V842.7" stroke="#e44a4f" stroke-width="1.3"/><rect x="1556.7" y="828.1" width="6.6" height="14.6" fill="#e44a4f"/>
<path d="M1568.0 813.0V826.1" stroke="#e44a4f" stroke-width="1.3"/><rect x="1564.7" y="816.4" width="6.6" height="9.7" fill="#e44a4f"/>
<path d="M1576.1 797.2V826.1" stroke="#e44a4f" stroke-width="1.3"/><rect x="1572.8" y="797.2" width="6.6" height="28.9" fill="#e44a4f"/>
<path d="M1584.2 797.6V820.7" stroke="#439983" stroke-width="1.3"/><rect x="1580.9" y="797.6" width="6.6" height="22.3" fill="#439983"/>
<path d="M1592.2 809.2V825.3" stroke="#439983" stroke-width="1.3"/><rect x="1588.9" y="820.2" width="6.6" height="3.8" fill="#439983"/>
<path d="M1600.3 825.3V843.8" stroke="#e44a4f" stroke-width="1.3"/><rect x="1597.0" y="826.5" width="6.6" height="4.9" fill="#e44a4f"/>
<path d="M1608.4 791.0V808.7" stroke="#e44a4f" stroke-width="1.3"/><rect x="1605.1" y="801.9" width="6.6" height="1.4" fill="#e44a4f"/>
<path d="M1616.4 793.0V805.6" stroke="#e44a4f" stroke-width="1.3"/><rect x="1613.1" y="794.2" width="6.6" height="2.2" fill="#e44a4f"/>
<path d="M1624.5 755.8V787.2" stroke="#e44a4f" stroke-width="1.3"/><rect x="1621.2" y="757.7" width="6.6" height="29.5" fill="#e44a4f"/>
<path d="M1632.5 719.2V743.5" stroke="#e44a4f" stroke-width="1.3"/><rect x="1629.2" y="726.1" width="6.6" height="16.1" fill="#e44a4f"/>
<path d="M1640.6 687.7V716.4" stroke="#439983" stroke-width="1.3"/><rect x="1637.3" y="704.6" width="6.6" height="3.1" fill="#439983"/>
<path d="M1648.7 715.4V740.7" stroke="#439983" stroke-width="1.3"/><rect x="1645.4" y="716.1" width="6.6" height="19.5" fill="#439983"/>
<path d="M1656.7 738.1V765.6" stroke="#e44a4f" stroke-width="1.3"/><rect x="1653.4" y="748.4" width="6.6" height="6.9" fill="#e44a4f"/>
<path d="M1664.8 741.8V752.7" stroke="#439983" stroke-width="1.3"/><rect x="1661.5" y="746.1" width="6.6" height="1.4" fill="#439983"/>
<path d="M1672.8 733.8V751.5" stroke="#439983" stroke-width="1.3"/><rect x="1669.5" y="735.4" width="6.6" height="10.3" fill="#439983"/>
<path d="M1680.9 744.6V760.7" stroke="#439983" stroke-width="1.3"/><rect x="1677.6" y="750.3" width="6.6" height="7.7" fill="#439983"/>
<path d="M1689.0 746.6V761.8" stroke="#e44a4f" stroke-width="1.3"/><rect x="1685.7" y="752.3" width="6.6" height="8.5" fill="#e44a4f"/>
<path d="M1697.0 735.8V758.4" stroke="#439983" stroke-width="1.3"/><rect x="1693.7" y="738.1" width="6.6" height="6.8" fill="#439983"/>
<path d="M1705.1 745.4V760.0" stroke="#439983" stroke-width="1.3"/><rect x="1701.8" y="746.6" width="6.6" height="8.5" fill="#439983"/>
<path d="M1713.2 737.4V761.8" stroke="#439983" stroke-width="1.3"/><rect x="1709.9" y="741.2" width="6.6" height="18.0" fill="#439983"/>
<path d="M1721.2 756.6V774.1" stroke="#e44a4f" stroke-width="1.3"/><rect x="1717.9" y="765.2" width="6.6" height="1.4" fill="#e44a4f"/>
<path d="M1729.3 752.3V768.7" stroke="#e44a4f" stroke-width="1.3"/><rect x="1726.0" y="753.3" width="6.6" height="8.1" fill="#e44a4f"/>
<path d="M1737.3 739.2V760.7" stroke="#439983" stroke-width="1.3"/><rect x="1734.0" y="749.2" width="6.6" height="5.4" fill="#439983"/>
<path d="M1745.4 739.9V769.6" stroke="#e44a4f" stroke-width="1.3"/><rect x="1742.1" y="739.9" width="6.6" height="23.3" fill="#e44a4f"/>
<path d="M1753.5 729.3V748.8" stroke="#439983" stroke-width="1.3"/><rect x="1750.2" y="730.3" width="6.6" height="15.3" fill="#439983"/>
<path d="M1761.5 719.7V756.8" stroke="#439983" stroke-width="1.3"/><rect x="1758.2" y="743.5" width="6.6" height="3.8" fill="#439983"/>
<path d="M1769.6 660.3V728.8" stroke="#e44a4f" stroke-width="1.3"/><rect x="1766.3" y="669.8" width="6.6" height="54.6" fill="#e44a4f"/>
<path d="M1777.7 620.4V648.6" stroke="#e44a4f" stroke-width="1.3"/><rect x="1774.4" y="633.7" width="6.6" height="10.6" fill="#e44a4f"/>
<path d="M1785.7 635.9V658.1" stroke="#439983" stroke-width="1.3"/><rect x="1782.4" y="637.6" width="6.6" height="17.4" fill="#439983"/>
<path d="M1793.8 649.6V680.0" stroke="#439983" stroke-width="1.3"/><rect x="1790.5" y="650.3" width="6.6" height="29.1" fill="#439983"/>
<path d="M1801.8 690.0V703.8" stroke="#439983" stroke-width="1.3"/><rect x="1798.5" y="692.1" width="6.6" height="5.7" fill="#439983"/>
<path d="M1809.9 692.1V703.4" stroke="#439983" stroke-width="1.3"/><rect x="1806.6" y="693.2" width="6.6" height="5.3" fill="#439983"/>
<path d="M1818.0 670.9V698.9" stroke="#e44a4f" stroke-width="1.3"/><rect x="1814.7" y="675.1" width="6.6" height="21.9" fill="#e44a4f"/>
<path d="M1826.0 675.8V701.7" stroke="#439983" stroke-width="1.3"/><rect x="1822.7" y="677.2" width="6.6" height="13.8" fill="#439983"/>
<path d="M1834.1 716.5V743.0" stroke="#e44a4f" stroke-width="1.3"/><rect x="1830.8" y="718.6" width="6.6" height="9.6" fill="#e44a4f"/>
<path d="M1842.1 699.5V710.8" stroke="#e44a4f" stroke-width="1.3"/><rect x="1838.8" y="704.7" width="6.6" height="1.4" fill="#e44a4f"/>
<path d="M1850.2 687.4V711.6" stroke="#e44a4f" stroke-width="1.3"/><rect x="1846.9" y="690.4" width="6.6" height="21.2" fill="#e44a4f"/>
<path d="M1858.3 669.8V698.5" stroke="#e44a4f" stroke-width="1.3"/><rect x="1855.0" y="675.1" width="6.6" height="23.3" fill="#e44a4f"/>
<path d="M1866.3 621.4V665.6" stroke="#e44a4f" stroke-width="1.3"/><rect x="1863.0" y="633.7" width="6.6" height="30.8" fill="#e44a4f"/>
<path d="M1874.4 568.4V618.4" stroke="#e44a4f" stroke-width="1.3"/><rect x="1871.1" y="583.4" width="6.6" height="35.0" fill="#e44a4f"/>
<path d="M1882.5 543.1V567.5" stroke="#e44a4f" stroke-width="1.3"/><rect x="1879.2" y="553.1" width="6.6" height="10.6" fill="#e44a4f"/>
<path d="M1890.5 557.3V589.8" stroke="#439983" stroke-width="1.3"/><rect x="1887.2" y="561.1" width="6.6" height="27.6" fill="#439983"/>
<path d="M1898.6 547.1V581.7" stroke="#e44a4f" stroke-width="1.3"/><rect x="1895.3" y="547.1" width="6.6" height="29.3" fill="#e44a4f"/>
<path d="M1906.6 522.3V545.6" stroke="#e44a4f" stroke-width="1.3"/><rect x="1903.3" y="529.1" width="6.6" height="15.1" fill="#e44a4f"/>
<path d="M1914.7 518.7V545.0" stroke="#439983" stroke-width="1.3"/><rect x="1911.4" y="521.2" width="6.6" height="17.4" fill="#439983"/>
<path d="M1922.8 544.6V583.4" stroke="#439983" stroke-width="1.3"/><rect x="1919.5" y="546.7" width="6.6" height="28.0" fill="#439983"/>
<path d="M1930.8 572.2V592.8" stroke="#439983" stroke-width="1.3"/><rect x="1927.5" y="580.2" width="6.6" height="10.6" fill="#439983"/>
<path d="M1938.9 583.4V605.7" stroke="#e44a4f" stroke-width="1.3"/><rect x="1935.6" y="588.6" width="6.6" height="1.4" fill="#e44a4f"/>
<path d="M1947.0 557.3V586.0" stroke="#439983" stroke-width="1.3"/><rect x="1943.7" y="569.6" width="6.6" height="10.0" fill="#439983"/>
<path d="M1955.0 588.1V615.7" stroke="#439983" stroke-width="1.3"/><rect x="1951.7" y="589.2" width="6.6" height="13.8" fill="#439983"/>
<path d="M1963.1 589.2V608.7" stroke="#e44a4f" stroke-width="1.3"/><rect x="1959.8" y="595.1" width="6.6" height="3.0" fill="#e44a4f"/>
<path d="M1971.1 578.1V607.2" stroke="#e44a4f" stroke-width="1.3"/><rect x="1967.8" y="578.1" width="6.6" height="29.1" fill="#e44a4f"/>
<path d="M1979.2 578.5V589.2" stroke="#439983" stroke-width="1.3"/><rect x="1975.9" y="580.2" width="6.6" height="4.0" fill="#439983"/>
<path d="M1987.3 598.4V632.6" stroke="#439983" stroke-width="1.3"/><rect x="1984.0" y="604.1" width="6.6" height="9.5" fill="#439983"/>
<path d="M1995.3 598.4V617.4" stroke="#e44a4f" stroke-width="1.3"/><rect x="1992.0" y="606.3" width="6.6" height="1.4" fill="#e44a4f"/>
<path d="M2003.4 607.9V630.7" stroke="#439983" stroke-width="1.3"/><rect x="2000.1" y="618.9" width="6.6" height="8.6" fill="#439983"/>
<path d="M2011.5 589.8V619.3" stroke="#e44a4f" stroke-width="1.3"/><rect x="2008.2" y="591.7" width="6.6" height="27.6" fill="#e44a4f"/>
<path d="M2019.5 556.1V580.3" stroke="#e44a4f" stroke-width="1.3"/><rect x="2016.2" y="567.9" width="6.6" height="1.9" fill="#e44a4f"/>
<path d="M2027.6 522.3V548.9" stroke="#e44a4f" stroke-width="1.3"/><rect x="2024.3" y="532.4" width="6.6" height="11.4" fill="#e44a4f"/>
<path d="M2035.6 502.7V542.8" stroke="#439983" stroke-width="1.3"/><rect x="2032.3" y="518.5" width="6.6" height="24.4" fill="#439983"/>
<path d="M2043.7 520.9V540.3" stroke="#e44a4f" stroke-width="1.3"/><rect x="2040.4" y="522.3" width="6.6" height="18.1" fill="#e44a4f"/>
<path d="M2051.8 489.9V519.4" stroke="#e44a4f" stroke-width="1.3"/><rect x="2048.5" y="492.2" width="6.6" height="27.2" fill="#e44a4f"/>
<path d="M2059.8 463.3V481.4" stroke="#439983" stroke-width="1.3"/><rect x="2056.5" y="468.0" width="6.6" height="2.3" fill="#439983"/>
<path d="M2067.9 454.3V477.5" stroke="#439983" stroke-width="1.3"/><rect x="2064.6" y="460.8" width="6.6" height="2.5" fill="#439983"/>
<path d="M2075.9 455.1V479.4" stroke="#e44a4f" stroke-width="1.3"/><rect x="2072.6" y="469.0" width="6.6" height="2.3" fill="#e44a4f"/>
<path d="M2084.0 429.0V466.1" stroke="#e44a4f" stroke-width="1.3"/><rect x="2080.7" y="440.1" width="6.6" height="22.6" fill="#e44a4f"/>
<path d="M2092.1 410.0V485.7" stroke="#439983" stroke-width="1.3"/><rect x="2088.8" y="422.7" width="6.6" height="32.9" fill="#439983"/>
<path d="M2100.1 415.1V447.1" stroke="#e44a4f" stroke-width="1.3"/><rect x="2096.8" y="430.0" width="6.6" height="17.1" fill="#e44a4f"/>
<path d="M2108.2 418.9V445.6" stroke="#e44a4f" stroke-width="1.3"/><rect x="2104.9" y="422.7" width="6.6" height="8.8" fill="#e44a4f"/>
<path d="M2116.3 411.3V428.6" stroke="#e44a4f" stroke-width="1.3"/><rect x="2113.0" y="415.3" width="6.6" height="9.5" fill="#e44a4f"/>
<path d="M2124.3 415.1V437.6" stroke="#439983" stroke-width="1.3"/><rect x="2121.0" y="422.7" width="6.6" height="14.8" fill="#439983"/>
<path d="M2132.4 448.0V463.3" stroke="#439983" stroke-width="1.3"/><rect x="2129.1" y="451.3" width="6.6" height="4.0" fill="#439983"/>
<path d="M2140.4 449.9V471.8" stroke="#439983" stroke-width="1.3"/><rect x="2137.1" y="454.3" width="6.6" height="7.0" fill="#439983"/>
<path d="M2148.5 463.8V492.8" stroke="#439983" stroke-width="1.3"/><rect x="2145.2" y="466.1" width="6.6" height="16.6" fill="#439983"/>
<path d="M2156.6 450.5V476.2" stroke="#e44a4f" stroke-width="1.3"/><rect x="2153.3" y="460.8" width="6.6" height="11.4" fill="#e44a4f"/>
<path d="M2164.6 414.4V455.7" stroke="#e44a4f" stroke-width="1.3"/><rect x="2161.3" y="415.1" width="6.6" height="40.5" fill="#e44a4f"/>
<path d="M2172.7 283.0V369.4" stroke="#e44a4f" stroke-width="1.3"/><rect x="2169.4" y="294.0" width="6.6" height="73.8" fill="#e44a4f"/>
<path d="M2180.8 261.3V295.4" stroke="#439983" stroke-width="1.3"/><rect x="2177.5" y="275.4" width="6.6" height="19.3" fill="#439983"/>
<path d="M2188.8 281.1V305.7" stroke="#439983" stroke-width="1.3"/><rect x="2185.5" y="295.2" width="6.6" height="10.5" fill="#439983"/>
<path d="M2196.9 257.8V290.8" stroke="#e44a4f" stroke-width="1.3"/><rect x="2193.6" y="258.8" width="6.6" height="31.2" fill="#e44a4f"/>
<path d="M2204.9 261.8V287.4" stroke="#439983" stroke-width="1.3"/><rect x="2201.6" y="262.5" width="6.6" height="23.9" fill="#439983"/>
<path d="M2213.0 299.8V371.4" stroke="#439983" stroke-width="1.3"/><rect x="2209.7" y="322.2" width="6.6" height="33.0" fill="#439983"/>
<path d="M2221.1 303.5V351.7" stroke="#e44a4f" stroke-width="1.3"/><rect x="2217.8" y="309.1" width="6.6" height="37.8" fill="#e44a4f"/>
<path d="M2229.1 273.5V294.0" stroke="#e44a4f" stroke-width="1.3"/><rect x="2225.8" y="275.4" width="6.6" height="9.8" fill="#e44a4f"/>
<path d="M2237.2 283.0V318.9" stroke="#439983" stroke-width="1.3"/><rect x="2233.9" y="301.0" width="6.6" height="16.8" fill="#439983"/>
<path d="M2245.2 225.2V277.1" stroke="#e44a4f" stroke-width="1.3"/><rect x="2241.9" y="225.2" width="6.6" height="48.3" fill="#e44a4f"/>
<path d="M2253.3 183.1V228.8" stroke="#439983" stroke-width="1.3"/><rect x="2250.0" y="198.1" width="6.6" height="20.2" fill="#439983"/>
<path d="M2261.4 210.2V256.6" stroke="#e44a4f" stroke-width="1.3"/><rect x="2258.1" y="218.9" width="6.6" height="3.4" fill="#e44a4f"/>
<path d="M2269.4 243.2V268.8" stroke="#439983" stroke-width="1.3"/><rect x="2266.1" y="243.2" width="6.6" height="12.4" fill="#439983"/>
<path d="M2277.5 211.0V237.3" stroke="#e44a4f" stroke-width="1.3"/><rect x="2274.2" y="218.9" width="6.6" height="11.9" fill="#e44a4f"/>
<path d="M2285.6 149.8V188.6" stroke="#e44a4f" stroke-width="1.3"/><rect x="2282.3" y="152.0" width="6.6" height="34.0" fill="#e44a4f"/>
<path d="M2293.6 153.1V173.6" stroke="#439983" stroke-width="1.3"/><rect x="2290.3" y="160.3" width="6.6" height="7.8" fill="#439983"/>
</g>
<polyline fill="none" stroke="#439983" stroke-width="1.35" stroke-linejoin="round" points="2.4,832.5 19.3,825.3 36.3,815.2 44.3,829.8 52.4,848.8 60.4,874.1 68.5,901.3 76.6,929.2 84.6,945.2 92.7,943.1 100.8,940.8 108.8,941.2 116.9,938.8 124.9,921.6 133.0,911.8 141.1,896.8 149.1,878.2 157.2,849.8 165.3,820.3 173.3,818.2 181.4,810.2 189.4,811.0 197.5,815.3 205.6,828.3 213.6,812.6 221.7,809.6 229.7,793.2 237.8,784.0 245.9,773.3 253.9,767.0 262.0,764.1 270.1,768.2 278.1,772.7 286.2,780.0 294.2,796.5 302.3,808.4 310.4,817.0 318.4,828.9 326.5,832.9 334.6,827.5 342.6,814.6 350.7,804.2 358.7,802.5 366.8,803.8 374.9,797.3 382.9,796.1 391.0,791.4 399.1,774.9 407.1,765.1 415.2,773.7 423.2,783.2 431.3,792.6 439.4,807.5 447.4,818.2 455.5,822.2 463.5,827.8 471.6,831.9 479.7,825.4 487.7,825.1 495.8,827.6 503.9,823.9 511.9,824.6 520.0,827.6 528.0,818.5 536.1,805.8 544.2,794.2 552.2,784.6 560.3,777.5 568.4,776.3 576.4,775.0 584.5,770.1 592.5,766.0 600.6,762.6 608.7,762.6 616.7,765.8 624.8,777.2 632.9,785.6 640.9,788.8 649.0,792.5 657.0,792.1 665.1,783.6 673.2,765.9 681.2,758.1 689.3,755.2 697.3,744.6 705.4,740.2 713.5,747.8 721.5,755.6 729.6,764.7 737.7,783.0 745.7,798.7 753.8,811.6 761.8,814.6 769.9,808.4 778.0,795.0 786.0,779.6 794.1,763.2 802.2,755.8 810.2,756.0 818.3,758.5 826.3,763.3 834.4,767.1 842.5,779.0 850.5,781.4 858.6,788.0 866.6,793.0 874.7,801.8 882.8,798.5 890.8,796.7 898.9,789.7 907.0,788.9 915.0,784.5 923.1,779.3 931.1,777.0 939.2,785.7 947.3,789.5 955.3,799.9 963.4,812.5 971.5,822.5 979.5,839.4 987.6,850.4 995.6,860.7 1003.7,868.6 1011.8,874.8 1019.8,877.8 1027.9,886.4 1035.9,892.3 1044.0,898.9 1052.1,909.3 1060.1,907.3 1068.2,903.2 1076.3,891.5 1084.3,881.2 1092.4,871.2 1100.4,865.1 1108.5,860.8 1116.6,858.8 1124.6,858.4 1132.7,864.6 1140.8,886.8 1148.8,910.7 1156.9,936.2 1164.9,970.1 1173.0,1007.1 1181.1,1056.7 1189.1,1085.6 1197.2,1130.0 1205.3,1131.4 1213.3,1133.7 1221.4,1102.1 1229.4,1088.3 1237.5,1064.0 1245.6,1066.6 1253.6,1053.8 1261.7,1050.5 1269.7,1050.8 1277.8,1040.0 1285.9,1032.8 1293.9,1021.7 1302.0,1004.5 1310.1,984.3 1318.1,966.8 1326.2,946.6 1334.2,934.9 1342.3,922.8 1350.4,906.7 1358.4,893.6 1366.5,878.8 1374.6,863.9 1382.6,854.7 1390.7,851.9 1398.7,853.7 1406.8,861.0 1414.9,870.1 1422.9,878.6 1431.0,885.4 1439.0,884.9 1447.1,882.5 1455.2,877.9 1463.2,862.0 1471.3,852.9 1479.4,853.6 1487.4,856.8 1495.5,856.5 1503.5,866.2 1511.6,868.5 1519.7,861.6 1527.7,853.1 1535.8,845.5 1543.9,838.7 1551.9,837.8 1560.0,835.3 1568.0,831.7 1576.1,826.7 1584.2,823.5 1592.2,817.1 1600.3,816.8 1608.4,814.0 1616.4,813.4 1624.5,800.9 1632.5,781.4 1640.6,757.6 1648.7,744.3 1656.7,735.1 1664.8,733.0 1672.8,736.9 1680.9,747.0 1689.0,750.3 1697.0,749.6 1705.1,751.2 1713.2,753.9 1721.2,755.3 1729.3,755.6 1737.3,757.5 1745.4,754.5 1753.5,751.7 1761.5,748.1 1769.6,731.4 1777.7,707.3 1785.7,690.3 1793.8,677.0 1801.8,667.1 1809.9,672.9 1818.0,681.2 1826.0,688.4 1834.1,696.2 1842.1,697.6 1850.2,696.0 1858.3,696.0 1866.3,684.5 1874.4,657.5 1882.5,627.1 1890.5,606.8 1898.6,581.2 1906.6,560.3 1914.7,551.3 1922.8,555.7 1930.8,556.1 1938.9,564.4 1947.0,574.5 1955.0,587.4 1963.1,591.4 1971.1,588.9 1979.2,588.0 1987.3,594.8 1995.3,595.5 2003.4,602.0 2011.5,604.7 2019.5,601.4 2027.6,585.2 2035.6,572.5 2043.7,551.4 2051.8,531.5 2059.8,512.0 2067.9,498.2 2075.9,483.4 2084.0,467.0 2092.1,459.7 2100.1,451.6 2108.2,443.5 2116.3,432.7 2124.3,432.2 2132.4,432.2 2140.4,438.5 2148.5,450.4 2156.6,459.5 2164.6,455.0 2172.7,422.8 2180.8,389.5 2188.8,354.1 2196.9,313.7 2204.9,287.9 2213.0,300.2 2221.1,303.0 2229.1,297.0 2237.2,308.8 2245.2,296.5 2253.3,269.2 2261.4,251.1 2269.4,247.2 2277.5,227.4 2285.6,212.7 2293.6,202.7"/>
<polyline fill="none" stroke="#6fa94e" stroke-width="1.3" stroke-linejoin="round" points="2.4,894.2 12.1,895.8 29.0,891.7 38.7,892.5 48.3,898.3 60.4,903.8 67.6,903.1 74.9,893.4 89.4,887.6 106.3,880.9 125.6,878.0 145.0,875.6 164.3,869.3 188.5,869.3 197.5,869.7 205.6,869.1 213.6,866.9 221.7,866.3 229.7,865.0 237.8,863.4 245.9,857.7 253.9,850.5 262.0,844.3 270.1,838.4 278.1,832.1 286.2,824.7 294.2,821.2 302.3,817.8 310.4,813.5 318.4,810.1 326.5,806.9 334.6,804.4 342.6,801.4 350.7,798.7 358.7,800.7 366.8,803.7 374.9,800.2 382.9,798.6 391.0,794.8 399.1,792.6 407.1,791.0 415.2,792.4 423.2,793.3 431.3,794.7 439.4,797.3 447.4,800.0 455.5,803.4 463.5,806.0 471.6,807.4 479.7,807.9 487.7,809.0 495.8,809.6 503.9,809.1 511.9,808.9 520.0,807.6 528.0,806.1 536.1,805.3 544.2,805.0 552.2,805.0 560.3,802.6 568.4,800.6 576.4,800.9 584.5,799.8 592.5,799.9 600.6,800.1 608.7,800.1 616.7,799.3 624.8,798.6 632.9,798.5 640.9,796.4 649.0,795.0 657.0,793.3 665.1,789.8 673.2,785.3 681.2,782.9 689.3,781.0 697.3,776.7 705.4,773.1 713.5,770.0 721.5,768.5 729.6,770.3 737.7,772.1 745.7,774.0 753.8,775.4 761.8,775.9 769.9,776.7 778.0,776.1 786.0,775.8 794.1,774.8 802.2,774.6 810.2,775.4 818.3,774.6 826.3,773.1 834.4,771.1 842.5,772.6 850.5,773.2 858.6,773.8 866.6,774.9 874.7,778.3 882.8,780.7 890.8,781.4 898.9,782.8 907.0,784.7 915.0,785.6 923.1,785.4 931.1,783.9 939.2,783.4 947.3,782.9 955.3,783.3 963.4,785.0 971.5,786.7 979.5,792.3 987.6,797.0 995.6,802.8 1003.7,807.6 1011.8,810.5 1019.8,816.1 1027.9,821.7 1035.9,827.8 1044.0,831.6 1052.1,836.0 1060.1,840.0 1068.2,843.7 1076.3,845.8 1084.3,848.1 1092.4,850.9 1100.4,855.1 1108.5,858.1 1116.6,860.6 1124.6,863.9 1132.7,868.5 1140.8,875.3 1148.8,882.3 1156.9,887.9 1164.9,895.4 1173.0,905.4 1181.1,918.7 1189.1,929.3 1197.2,941.8 1205.3,948.0 1213.3,957.2 1221.4,963.6 1229.4,969.7 1237.5,976.1 1245.6,981.5 1253.6,986.1 1261.7,992.2 1269.7,999.2 1277.8,1005.8 1285.9,1011.9 1293.9,1016.2 1302.0,1020.1 1310.1,1023.9 1318.1,1027.4 1326.2,1029.5 1334.2,1030.3 1342.3,1027.3 1350.4,1023.1 1358.4,1018.9 1366.5,1011.2 1374.6,1001.6 1382.6,986.9 1390.7,976.4 1398.7,963.6 1406.8,957.2 1414.9,948.9 1422.9,942.2 1431.0,935.8 1439.0,927.8 1447.1,920.3 1455.2,913.7 1463.2,904.5 1471.3,896.3 1479.4,890.5 1487.4,885.2 1495.5,880.7 1503.5,876.9 1511.6,873.1 1519.7,869.5 1527.7,866.5 1535.8,862.8 1543.9,860.0 1551.9,859.3 1560.0,857.8 1568.0,857.0 1576.1,855.4 1584.2,853.8 1592.2,852.4 1600.3,850.4 1608.4,847.6 1616.4,844.0 1624.5,838.2 1632.5,831.6 1640.6,825.0 1648.7,820.0 1656.7,815.4 1664.8,812.5 1672.8,808.4 1680.9,803.7 1689.0,798.7 1697.0,794.1 1705.1,789.5 1713.2,785.4 1721.2,782.4 1729.3,779.2 1737.3,776.5 1745.4,772.6 1753.5,768.2 1761.5,765.0 1769.6,759.1 1777.7,752.6 1785.7,746.0 1793.8,740.2 1801.8,735.0 1809.9,730.9 1818.0,726.1 1826.0,723.5 1834.1,723.2 1842.1,723.0 1850.2,721.2 1858.3,718.3 1866.3,713.8 1874.4,707.3 1882.5,699.1 1890.5,692.5 1898.6,684.6 1906.6,675.6 1914.7,666.8 1922.8,659.1 1930.8,652.6 1938.9,646.0 1947.0,639.6 1955.0,633.9 1963.1,627.8 1971.1,624.1 1979.2,622.2 1987.3,620.5 1995.3,617.6 2003.4,614.8 2011.5,610.5 2019.5,606.2 2027.6,599.9 2035.6,592.8 2043.7,585.5 2051.8,577.6 2059.8,569.4 2067.9,562.6 2075.9,558.0 2084.0,553.5 2092.1,548.2 2100.1,543.5 2108.2,539.2 2116.3,534.3 2124.3,528.8 2132.4,523.4 2140.4,518.3 2148.5,514.4 2156.6,508.7 2164.6,501.5 2172.7,490.2 2180.8,478.6 2188.8,466.3 2196.9,452.4 2204.9,438.7 2213.0,429.3 2221.1,418.9 2229.1,408.6 2237.2,399.6 2245.2,387.7 2253.3,376.8 2261.4,366.7 2269.4,358.4 2277.5,348.4 2285.6,336.9 2293.6,325.4"/>
<line x1="2" y1="168" x2="2446" y2="168" stroke="#439983" stroke-width="1.7" stroke-opacity="0.5" stroke-dasharray="1.3 1.5"/>
</g>
<text x="2459.3" y="1294.2" class="ax" textLength="82.4" lengthAdjust="spacing">30,000.00</text>
<text x="2459.3" y="1238.8" class="ax" textLength="82.4" lengthAdjust="spacing">31,000.00</text>
<text x="2459.3" y="1183.3" class="ax" textLength="82.4" lengthAdjust="spacing">32,000.00</text>
<text x="2459.3" y="1127.8" class="ax" textLength="82.4" lengthAdjust="spacing">33,000.00</text>
<text x="2459.3" y="1072.4" class="ax" textLength="82.4" lengthAdjust="spacing">34,000.00</text>
<text x="2459.3" y="1016.9" class="ax" textLength="82.4" lengthAdjust="spacing">35,000.00</text>
<text x="2459.3" y="795.1" class="ax" textLength="82.4" lengthAdjust="spacing">39,000.00</text>
<text x="2459.3" y="628.7" class="ax" textLength="82.4" lengthAdjust="spacing">42,000.00</text>
<text x="2459.3" y="573.2" class="ax" textLength="82.4" lengthAdjust="spacing">43,000.00</text>
<text x="2459.3" y="517.8" class="ax" textLength="82.4" lengthAdjust="spacing">44,000.00</text>
<text x="2459.3" y="462.3" class="ax" textLength="82.4" lengthAdjust="spacing">45,000.00</text>
<text x="2459.3" y="406.9" class="ax" textLength="82.4" lengthAdjust="spacing">46,000.00</text>
<text x="2459.3" y="351.4" class="ax" textLength="82.4" lengthAdjust="spacing">47,000.00</text>
<text x="2459.3" y="295.9" class="ax" textLength="82.4" lengthAdjust="spacing">48,000.00</text>
<text x="2459.3" y="240.5" class="ax" textLength="82.4" lengthAdjust="spacing">49,000.00</text>
<text x="2459.3" y="185.0" class="ax" textLength="82.4" lengthAdjust="spacing">50,000.00</text>
<text x="2459.3" y="129.6" class="ax" textLength="82.4" lengthAdjust="spacing">51,000.00</text>
<text x="2459.3" y="74.1" class="ax" textLength="82.4" lengthAdjust="spacing">52,000.00</text>
<path d="M2446.3 155.0H2547a3 3 0 0 1 3 3V177.4a3 3 0 0 1 -3 3H2446.3z" fill="#439983"/>
<text x="2459.3" y="173.2" class="lb" fill="#ffffff" textLength="82.4" lengthAdjust="spacing">50,219.11</text>
<path d="M2446.3 507.2H2547a3 3 0 0 1 3 3V529.2a3 3 0 0 1 -3 3H2446.3z" fill="#ffffff"/>
<text x="2459.3" y="524.8" class="lb" fill="#10131c" textLength="82.4" lengthAdjust="spacing">43,876.41</text>
<path d="M2446.3 588.1H2547a3 3 0 0 1 3 3V609.5a3 3 0 0 1 -3 3H2446.3z" fill="#ffffff"/>
<text x="2459.3" y="605.5" class="lb" fill="#10131c" textLength="82.4" lengthAdjust="spacing">42,426.76</text>
<path d="M2446.3 663.0H2547a3 3 0 0 1 3 3V684.5a3 3 0 0 1 -3 3H2446.3z" fill="#b4b7c0"/>
<text x="2459.3" y="680.5" class="lb" fill="#10131c" textLength="82.4" lengthAdjust="spacing">41,087.75</text>
<path d="M2446.3 709.1H2547a3 3 0 0 1 3 3V730.5a3 3 0 0 1 -3 3H2446.3z" fill="#f7e64f"/>
<text x="2459.3" y="726.9" class="lb" fill="#10131c" textLength="82.4" lengthAdjust="spacing">40,249.85</text>
<path d="M2446.3 733.5H2547a3 3 0 0 1 3 3V754.2a3 3 0 0 1 -3 3H2446.3z" fill="#e44a4f"/>
<text x="2459.3" y="750.1" class="lb" fill="#ffffff" textLength="82.4" lengthAdjust="spacing">39,831.54</text>
<path d="M2446.3 757.2H2547a3 3 0 0 1 3 3V778.5a3 3 0 0 1 -3 3H2446.3z" fill="#b4b7c0"/>
<text x="2459.3" y="773.9" class="lb" fill="#10131c" textLength="82.4" lengthAdjust="spacing">39,435.35</text>
<path d="M2446.3 784.5H2547a3 3 0 0 1 3 3V805.2a3 3 0 0 1 -3 3H2446.3z" fill="#48b4d3"/>
<text x="2459.3" y="802.0" class="lb" fill="#10131c" textLength="82.4" lengthAdjust="spacing">38,887.64</text>
<path d="M2446.3 807.8H2547a3 3 0 0 1 3 3V829.4a3 3 0 0 1 -3 3H2446.3z" fill="#ffffff"/>
<text x="2459.3" y="824.9" class="lb" fill="#10131c" textLength="82.4" lengthAdjust="spacing">38,489.84</text>
<path d="M2446.3 831.6H2547a3 3 0 0 1 3 3V853.2a3 3 0 0 1 -3 3H2446.3z" fill="#ffffff"/>
<text x="2459.3" y="849.3" class="lb" fill="#10131c" textLength="82.4" lengthAdjust="spacing">38,369.63</text>
<path d="M2446.3 855.4H2547a3 3 0 0 1 3 3V876.9a3 3 0 0 1 -3 3H2446.3z" fill="#ffffff"/>
<text x="2459.3" y="872.5" class="lb" fill="#10131c" textLength="82.4" lengthAdjust="spacing">38,068.01</text>
<path d="M2446.3 879.1H2547a3 3 0 0 1 3 3V900.7a3 3 0 0 1 -3 3H2446.3z" fill="#ffffff"/>
<text x="2459.3" y="896.6" class="lb" fill="#10131c" textLength="82.4" lengthAdjust="spacing">37,736.04</text>
<path d="M2446.3 902.9H2547a3 3 0 0 1 3 3V924.4a3 3 0 0 1 -3 3H2446.3z" fill="#ffffff"/>
<text x="2459.3" y="920.3" class="lb" fill="#10131c" textLength="82.4" lengthAdjust="spacing">37,621.77</text>
<path d="M2446.3 926.6H2547a3 3 0 0 1 3 3V948.0a3 3 0 0 1 -3 3H2446.3z" fill="#ffffff"/>
<text x="2459.3" y="943.9" class="lb" fill="#10131c" textLength="82.4" lengthAdjust="spacing">37,534.81</text>
<path d="M2446.3 950.2H2547a3 3 0 0 1 3 3V971.1a3 3 0 0 1 -3 3H2446.3z" fill="#ffffff"/>
<text x="2459.3" y="967.5" class="lb" fill="#10131c" textLength="82.4" lengthAdjust="spacing">36,737.46</text>
<path d="M2446.3 973.7H2547a3 3 0 0 1 3 3V996.0a3 3 0 0 1 -3 3H2446.3z" fill="#f19e33"/>
<text x="2459.3" y="991.9" class="lb" fill="#10131c" textLength="82.4" lengthAdjust="spacing">35,707.84</text>
<path d="M2446.3 1067.4H2547a3 3 0 0 1 3 3V1089.2a3 3 0 0 1 -3 3H2446.3z" fill="#e44a4f"/>
<text x="2459.3" y="1084.9" class="lb" fill="#ffffff" textLength="82.4" lengthAdjust="spacing">33,786.43</text>
<path d="M2446.3 1240.4H2547a3 3 0 0 1 3 3V1262.6a3 3 0 0 1 -3 3H2446.3z" fill="#b4b7c0"/>
<text x="2459.3" y="1258.3" class="lb" fill="#10131c" textLength="82.4" lengthAdjust="spacing">30,664.12</text>
<rect x="2451.5" y="6.5" width="100" height="35" rx="6" fill="#0f0f0f" stroke="#3a3a3e" stroke-width="1"/>
<text x="2456.4" y="30.0" fill="#d5d6db" font-size="16.6" textLength="28.6" lengthAdjust="spacing">JPY</text>
<path d="M2537.6 22.2l4 3.8 4-3.8" fill="none" stroke="#d5d6db" stroke-width="1.8"/>
<text x="28.0" y="1347.4" class="ax" text-anchor="middle">9月</text>
<text x="181.0" y="1347.4" class="ax" text-anchor="middle">10月</text>
<text x="358.2" y="1347.4" class="ax" text-anchor="middle">11月</text>
<text x="519.5" y="1347.4" class="ax" text-anchor="middle">12月</text>
<text x="842.5" y="1347.4" class="ax" text-anchor="middle">2月</text>
<text x="987.6" y="1347.4" class="ax" text-anchor="middle">3月</text>
<text x="1148.8" y="1347.4" class="ax" text-anchor="middle">4月</text>
<text x="1318.0" y="1347.4" class="ax" text-anchor="middle">5月</text>
<text x="1479.0" y="1347.4" class="ax" text-anchor="middle">6月</text>
<text x="1648.0" y="1347.4" class="ax" text-anchor="middle">7月</text>
<text x="1826.0" y="1347.4" class="ax" text-anchor="middle">8月</text>
<text x="1987.3" y="1347.4" class="ax" text-anchor="middle">9月</text>
<text x="2148.2" y="1347.4" class="ax" text-anchor="middle">10月</text>
<text x="2325.5" y="1347.4" class="ax" text-anchor="middle">11月</text>
<text x="689.0" y="1347.4" class="ax" fill="#c5c7cf" font-weight="bold" text-anchor="middle">2025</text>
<g fill="none" stroke="#c3c5cc" stroke-width="1.7"><path d="M2491.3 1341.4l5.3-9.1h10.4l5.3 9.1-5.3 9.1h-10.4z"/><circle cx="2501.8" cy="1341.4" r="3.4"/></g>
<circle cx="2422.4" cy="1303.3" r="14.6" fill="#101015" stroke="#e44a4f" stroke-width="2"/><circle cx="2422.4" cy="1303.3" r="11.6" fill="#f0f0f2"/><circle cx="2422.4" cy="1303.3" r="5" fill="#e6686c"/>
<circle cx="2294.5" cy="1303.2" r="13.6" fill="#0f0f11" stroke="#a05ac3" stroke-width="1.8"/><path d="M2298.3 1296L2288.4 1303.8L2293.8 1304.8L2290.2 1310.7L2300.4 1302.6L2295.2 1301.8z" fill="#a95fcc"/><circle cx="2304" cy="1293.4" r="4.9" fill="#e5494f" stroke="#0f0f11" stroke-width="1.6"/>
<g fill="#dcdce0" stroke="#121212" stroke-width="3" stroke-linejoin="round" paint-order="stroke">
<path d="M18.6 1281.1H35.1V1301.4H26.9V1288.3H18.6z"/><circle cx="41.9" cy="1285" r="3.3"/><path d="M51.3 1281.1H59.8L52.2 1301.4H43.3z"/>
<text x="70.5" y="1301.4" font-size="28.4" font-weight="bold" textLength="168.2" lengthAdjust="spacingAndGlyphs">TradingView</text></g>
<circle cx="26.3" cy="25" r="12.4" fill="#2c4f82"/>
<text x="26.3" y="28.8" fill="#ffffff" font-size="10.5" font-weight="bold" text-anchor="middle">225</text>
<text x="45.8" y="33.2" fill="#cfd1d8" font-size="23.4" textLength="105.4" lengthAdjust="spacingAndGlyphs">Japan 225</text>
<text x="160.5" y="33.2" fill="#cfd1d8" font-size="23.4" textLength="129.0" lengthAdjust="spacingAndGlyphs">インデックス</text>
<text x="310.8" y="33.2" fill="#cfd1d8" font-size="23.4" textLength="31.2" lengthAdjust="spacingAndGlyphs">1日</text>
<text x="363.8" y="33.2" fill="#cfd1d8" font-size="23.4" textLength="40.0" lengthAdjust="spacingAndGlyphs">TVC</text>
<text x="300.3" y="33.2" fill="#cfd1d8" font-size="23.4" text-anchor="middle">·</text>
<text x="353.3" y="33.2" fill="#cfd1d8" font-size="23.4" text-anchor="middle">·</text>
<path d="M421.2 16.2H438l-5 8.2 5 8.2H421.2z" fill="#e85757"/>
<path d="M467.3 12.5H483V37H467.3a12.25 12.25 0 0 1 0-24.5z" fill="#2c2f39"/><path d="M483 12.5h14.8a12.25 12.25 0 0 1 0 24.5H483z" fill="#341f30"/><rect x="463" y="21.5" width="14.5" height="6" rx="3" fill="#a6a8ae"/>
<text x="496.0" y="31.6" fill="#d6336c" font-size="22" font-weight="bold" text-anchor="middle">≈</text>
<text x="522.5" y="31.9" fill="#cfd1d8" font-size="18.4" textLength="36.3" lengthAdjust="spacing">始値</text>
<text x="561.0" y="31.9" fill="#439983" font-size="18.4" textLength="88.0" lengthAdjust="spacing">50,357.15</text>
<text x="658.8" y="31.9" fill="#cfd1d8" font-size="18.4" textLength="35.6" lengthAdjust="spacing">高値</text>
<text x="696.3" y="31.9" fill="#439983" font-size="18.4" textLength="88.7" lengthAdjust="spacing">50,485.80</text>
<text x="794.7" y="31.9" fill="#cfd1d8" font-size="18.4" textLength="35.6" lengthAdjust="spacing">安値</text>
<text x="831.9" y="31.9" fill="#439983" font-size="18.4" textLength="88.4" lengthAdjust="spacing">50,107.77</text>
<text x="930.6" y="31.9" fill="#cfd1d8" font-size="18.4" textLength="35.7" lengthAdjust="spacing">終値</text>
<text x="967.8" y="31.9" fill="#439983" font-size="18.4" textLength="88.5" lengthAdjust="spacing">50,219.11</text>
<text x="1067.2" y="31.9" fill="#439983" font-size="18.4" textLength="157.2" lengthAdjust="spacing">−293.16 (−0.58%)</text>
<rect x="13.6" y="48.1" width="116.6" height="45.8" rx="6.5" fill="#0f0f0f" stroke="#d8454b" stroke-width="1.4"/>
<text x="28.8" y="67.5" fill="#e8494f" font-size="18" font-weight="bold" textLength="86.2" lengthAdjust="spacing">50,219.11</text>
<text x="71.8" y="86.5" fill="#e8494f" font-size="15" text-anchor="middle">売り</text>
<text x="142.5" y="77.2" fill="#cfd1d8" font-size="16" textLength="30.0" lengthAdjust="spacing">0.00</text>
<rect x="184.9" y="48.1" width="116.6" height="45.8" rx="6.5" fill="#0f0f0f" stroke="#2f5fd6" stroke-width="1.4"/>
<text x="200.0" y="67.5" fill="#3a6df2" font-size="18" font-weight="bold" textLength="86.2" lengthAdjust="spacing">50,219.11</text>
<text x="243.2" y="86.5" fill="#3a6df2" font-size="15" text-anchor="middle">買い</text>
<rect x="312.5" y="47" width="298.7" height="51.7" rx="9" fill="#1e1e20" filter="url(#sh)"/>
<g fill="#5b5b60">
<rect x="323.8" y="64.8" width="2.4" height="2.4"/>
<rect x="323.8" y="71.8" width="2.4" height="2.4"/>
<rect x="323.8" y="78.4" width="2.4" height="2.4"/>
<rect x="332.3" y="64.8" width="2.4" height="2.4"/>
<rect x="332.3" y="71.8" width="2.4" height="2.4"/>
<rect x="332.3" y="78.4" width="2.4" height="2.4"/>
</g>
<g fill="none" stroke="#cfcfd2" stroke-width="1.5">
<circle cx="360" cy="84.5" r="3"/><circle cx="384.2" cy="60.8" r="3"/><path d="M362.2 82.3L382 63"/>
<circle cx="414.3" cy="80.5" r="3"/><circle cx="433" cy="62" r="3"/><path d="M416.5 78.3L430.8 64.2"/><circle cx="431.8" cy="79.2" r="3"/><path d="M422.5 87.8L429.6 81.4M434 77L440.5 70.4"/>
<path d="M462.5 59.3H493.8M462.5 67.5H489.5M462.5 76.2H493.8M466.3 84.5H493.8"/><circle cx="492.5" cy="67.5" r="3"/><circle cx="463.3" cy="84.5" r="3"/>
<circle cx="520.5" cy="73.5" r="3"/><path d="M523.5 73.5H546.8"/>
<circle cx="573.3" cy="83" r="3"/><circle cx="584.5" cy="72.3" r="3"/><path d="M575.5 80.9L582.3 74.4M586.7 70.2L598.3 58.8"/>
</g>
<rect x="13.5" y="105.8" width="45" height="26.5" rx="4" fill="none" stroke="#3a3d49" stroke-width="1.2"/>
<path d="M22.4 117.2l4.6 4.4 4.6-4.4" fill="none" stroke="#d5d6db" stroke-width="2"/>
<text x="41.0" y="125.8" fill="#d5d6db" font-size="19">5</text>
<circle cx="93.5" cy="118.6" r="12.2" fill="#251d4a"/><g fill="none" stroke="#4d2fe0" stroke-width="2.4"><path d="M86.9 117.0A6.8 6.8 0 0 1 99.4 115.0"/><path d="M100.1 120.2A6.8 6.8 0 0 1 87.6 122.2"/></g><path d="M97.2 116.9l6-1.3-2.2 4.9z" fill="#5a55f5"/><path d="M89.8 120.3l-6 1.3 2.2-4.9z" fill="#5a55f5"/>
<g fill="none" stroke="#5d6cff" stroke-width="1.2" stroke-dasharray="1.6 1.4"><path d="M86.9 117.0A6.8 6.8 0 0 1 99.4 115.0"/><path d="M100.1 120.2A6.8 6.8 0 0 1 87.6 122.2"/></g>
</svg></body></html>
